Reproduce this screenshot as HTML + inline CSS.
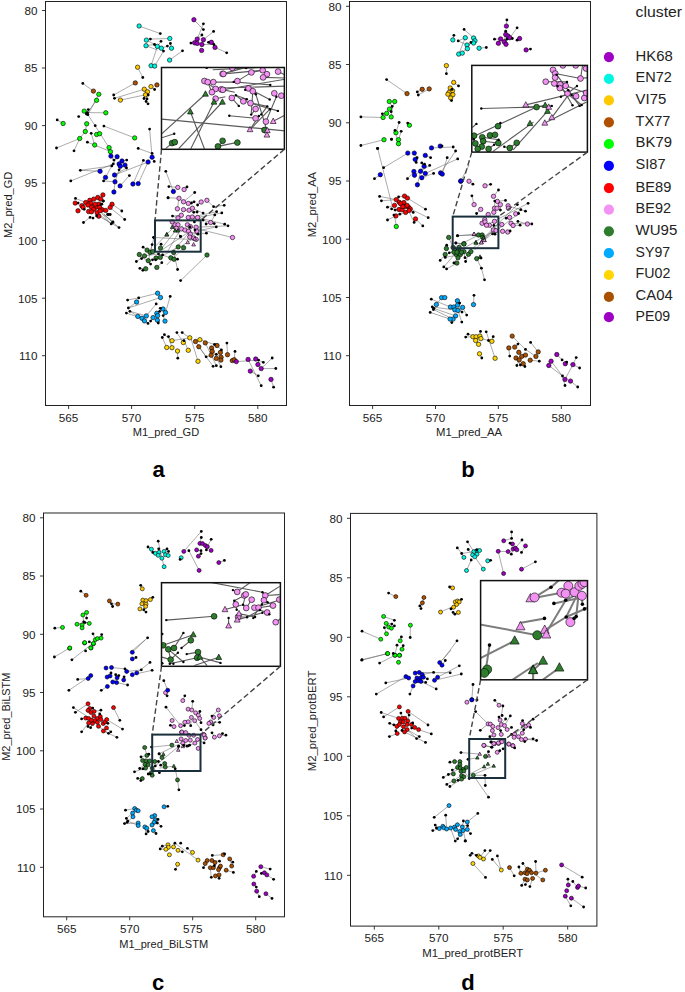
<!DOCTYPE html>
<html><head><meta charset="utf-8"><title>figure</title>
<style>html,body{margin:0;padding:0;background:#fff;width:685px;height:992px;overflow:hidden}
svg text{font-family:"Liberation Sans", sans-serif}</style></head>
<body>
<svg width="685" height="992" viewBox="0 0 685 992" style="display:block">
<rect width="685" height="992" fill="#fff"/>
<clipPath id="cpa"><rect x="45.5" y="1.5" width="241" height="404"/></clipPath>
<clipPath id="cia"><rect x="161.5" y="67.5" width="122.9" height="81.8"/></clipPath>
<g clip-path="url(#cpa)">
<g stroke="#555" stroke-width="0.55" stroke-opacity="0.9"><line x1="139.1" y1="26" x2="160.3" y2="33.6"/><line x1="150.4" y1="39.1" x2="169.8" y2="38.5"/><line x1="151.1" y1="65.7" x2="157.4" y2="46.4"/><line x1="154.7" y1="66.1" x2="163.5" y2="51.1"/><line x1="146.4" y1="40.1" x2="161.3" y2="48.2"/><line x1="146" y1="45.7" x2="154.5" y2="44.5"/><line x1="146" y1="45.7" x2="157.4" y2="50"/><line x1="161" y1="41.3" x2="157.4" y2="46.4"/><line x1="167.4" y1="46.1" x2="161.3" y2="48.2"/><line x1="170.4" y1="43.5" x2="171.5" y2="48.2"/><line x1="169.6" y1="60.1" x2="182.5" y2="50.8"/><line x1="137.6" y1="67.2" x2="142.8" y2="77.5"/><line x1="135.3" y1="82.9" x2="113.7" y2="95"/><line x1="144.3" y1="89.2" x2="114.5" y2="98.3"/><line x1="151" y1="86.6" x2="154.6" y2="89.5"/><line x1="147.5" y1="91.8" x2="146.1" y2="101.5"/><line x1="145.5" y1="94.8" x2="144" y2="98.5"/><line x1="120.4" y1="100.1" x2="145.5" y2="94.8"/><line x1="193.9" y1="19.7" x2="203.4" y2="29.6"/><line x1="197.2" y1="39.1" x2="203.4" y2="23.8"/><line x1="203.4" y1="39.7" x2="213.6" y2="31.4"/><line x1="215" y1="47.4" x2="226.7" y2="52.8"/><line x1="201.9" y1="44.5" x2="213.9" y2="44.5"/><line x1="197.2" y1="39.1" x2="201.9" y2="35"/><line x1="194.6" y1="42.8" x2="190.9" y2="43.1"/><line x1="93.4" y1="91.1" x2="82.8" y2="83.4"/><line x1="98.8" y1="94.3" x2="87.9" y2="114.7"/><line x1="96.6" y1="100.3" x2="86.4" y2="114"/><line x1="105.8" y1="112.8" x2="87.4" y2="112.6"/><line x1="63.1" y1="123.5" x2="57.2" y2="119.9"/><line x1="79.7" y1="138.5" x2="56.5" y2="148"/><line x1="79.7" y1="138.5" x2="74" y2="150.8"/><line x1="94.7" y1="145" x2="87.4" y2="142.2"/><line x1="94.7" y1="145" x2="91.2" y2="133.3"/><line x1="87.9" y1="114.7" x2="109.1" y2="147.6"/><line x1="94.7" y1="145" x2="110.5" y2="151.7"/><line x1="85.3" y1="131.5" x2="86.7" y2="123.8"/><line x1="79.7" y1="138.5" x2="85.3" y2="131.5"/><line x1="134.7" y1="137.9" x2="103.9" y2="126.1"/><line x1="149.6" y1="129.1" x2="152.1" y2="157.2"/><line x1="110.9" y1="156.1" x2="113.9" y2="160.1"/><line x1="117.1" y1="156.7" x2="113.3" y2="163.9"/><line x1="122" y1="161" x2="126.7" y2="160.1"/><line x1="125" y1="165.1" x2="126.5" y2="168"/><line x1="100.1" y1="171.3" x2="80.3" y2="170.3"/><line x1="80.3" y1="170.3" x2="111.8" y2="165.9"/><line x1="70.8" y1="180.9" x2="113.3" y2="163.9"/><line x1="105.5" y1="177.4" x2="111.8" y2="165.9"/><line x1="114.5" y1="175" x2="126.5" y2="168"/><line x1="114.5" y1="175" x2="148.1" y2="162"/><line x1="115" y1="181.8" x2="103.6" y2="180.9"/><line x1="115" y1="181.8" x2="119.1" y2="169.8"/><line x1="120.1" y1="185.9" x2="129.4" y2="175.6"/><line x1="113.9" y1="192" x2="115" y2="181.8"/><line x1="132.9" y1="184" x2="143.4" y2="160.4"/><line x1="138.2" y1="183.6" x2="148.1" y2="162"/><line x1="138.2" y1="148.4" x2="152.1" y2="153.4"/><line x1="75.5" y1="198.4" x2="105.8" y2="210.4"/><line x1="83.5" y1="222.5" x2="90.1" y2="217.4"/><line x1="119" y1="227.6" x2="98.8" y2="216.2"/><line x1="112.7" y1="222.5" x2="100" y2="210.8"/><line x1="111.2" y1="223.9" x2="97.1" y2="212.7"/><line x1="93.7" y1="199.1" x2="103.2" y2="201"/><line x1="112.2" y1="204.2" x2="121.8" y2="211"/><line x1="109.9" y1="207.5" x2="124.7" y2="219.5"/><line x1="104" y1="214.5" x2="113" y2="221.9"/><line x1="104" y1="214.5" x2="119" y2="227.7"/><line x1="101.7" y1="213.4" x2="110.8" y2="223.9"/><line x1="147.1" y1="250.1" x2="143.1" y2="247.2"/><line x1="150.1" y1="252.4" x2="152.1" y2="244.6"/><line x1="160.5" y1="248.1" x2="161.1" y2="244.2"/><line x1="139.3" y1="254.5" x2="141.6" y2="258.6"/><line x1="144.5" y1="255.9" x2="136.4" y2="261.5"/><line x1="148.3" y1="260.7" x2="150.6" y2="264.1"/><line x1="145.7" y1="268.8" x2="139.9" y2="268.3"/><line x1="145.7" y1="268.8" x2="142.8" y2="270.3"/><line x1="156" y1="258" x2="152.5" y2="259.8"/><line x1="160.3" y1="257.4" x2="162.6" y2="254.9"/><line x1="156.8" y1="267.4" x2="161.8" y2="262.7"/><line x1="170.8" y1="257.8" x2="158.5" y2="253.9"/><line x1="174" y1="259.2" x2="177.5" y2="259.2"/><line x1="173.7" y1="252.5" x2="177.6" y2="269.5"/><line x1="178.2" y1="246.9" x2="155.6" y2="259.8"/><line x1="183.6" y1="247.8" x2="166.7" y2="265"/><line x1="148.3" y1="260.7" x2="153.9" y2="237.6"/><line x1="144.5" y1="255.9" x2="158.5" y2="253.9"/><line x1="139.3" y1="254.5" x2="150.6" y2="264.1"/><line x1="207" y1="255" x2="180.6" y2="280.6"/><line x1="173.4" y1="191.5" x2="165.8" y2="171.3"/><line x1="184.1" y1="189.5" x2="187" y2="186.9"/><line x1="177.8" y1="187.4" x2="168.9" y2="186.6"/><line x1="179" y1="198.3" x2="168.1" y2="197.7"/><line x1="183.5" y1="201.8" x2="194.7" y2="192.5"/><line x1="188.3" y1="203.4" x2="194.1" y2="201.8"/><line x1="201.2" y1="202" x2="197.6" y2="205"/><line x1="206.9" y1="200.3" x2="213.6" y2="206.7"/><line x1="213.6" y1="206.7" x2="224.2" y2="205.3"/><line x1="192.4" y1="208.2" x2="203.1" y2="213.1"/><line x1="189.1" y1="210.2" x2="193.8" y2="212.3"/><line x1="183.5" y1="209.6" x2="197.1" y2="212"/><line x1="181.3" y1="215.2" x2="172.5" y2="216.1"/><line x1="178" y1="218" x2="172.5" y2="216.1"/><line x1="197.6" y1="217.5" x2="221.8" y2="212.9"/><line x1="192.3" y1="217" x2="216.6" y2="211.7"/><line x1="210.7" y1="222.5" x2="214.8" y2="214.9"/><line x1="210.7" y1="222.5" x2="206.1" y2="224"/><line x1="197.6" y1="217.5" x2="224.7" y2="224.2"/><line x1="196.1" y1="227.2" x2="228" y2="225.8"/><line x1="196.7" y1="231.2" x2="216.3" y2="226.9"/><line x1="192.3" y1="217" x2="214.2" y2="223.6"/><line x1="190.3" y1="234.2" x2="206.4" y2="233.2"/><line x1="188.5" y1="231.2" x2="197.9" y2="234.2"/><line x1="177.4" y1="208.8" x2="179" y2="198.3"/><line x1="172.2" y1="221.9" x2="180.4" y2="236.5"/><line x1="179" y1="198.3" x2="183.5" y2="201.8"/><line x1="188.3" y1="217.5" x2="203.1" y2="220.1"/><line x1="232.5" y1="237.5" x2="190" y2="227"/><line x1="157.6" y1="293.2" x2="138.7" y2="297.9"/><line x1="138.7" y1="297.9" x2="127.6" y2="300.1"/><line x1="160.5" y1="297.5" x2="128.4" y2="308"/><line x1="136.6" y1="302" x2="128.4" y2="308"/><line x1="156.2" y1="303.9" x2="146.3" y2="315.9"/><line x1="170.2" y1="296.4" x2="165.5" y2="312.5"/><line x1="137.8" y1="316.4" x2="129.9" y2="311.3"/><line x1="142" y1="318.3" x2="126.4" y2="313.1"/><line x1="146.3" y1="315.9" x2="129.9" y2="311.3"/><line x1="144.5" y1="320.9" x2="148" y2="323.4"/><line x1="153.1" y1="317.6" x2="150.6" y2="321.1"/><line x1="157.4" y1="320.3" x2="158.3" y2="323"/><line x1="163" y1="309" x2="160.3" y2="308.3"/><line x1="156.8" y1="313.3" x2="159.7" y2="311.3"/><line x1="165" y1="321.1" x2="163.2" y2="315.6"/><line x1="172" y1="340.7" x2="164.4" y2="334.7"/><line x1="166.7" y1="347.5" x2="162.3" y2="337.5"/><line x1="172" y1="347.7" x2="168.5" y2="336.6"/><line x1="177.5" y1="351" x2="177.8" y2="358.2"/><line x1="183.3" y1="342.5" x2="176.9" y2="332.6"/><line x1="189.8" y1="337.8" x2="182.2" y2="332.6"/><line x1="188.3" y1="350.3" x2="184" y2="340.7"/><line x1="172" y1="340.7" x2="189.8" y2="337.8"/><line x1="190.7" y1="337.8" x2="198" y2="361.3"/><line x1="199.9" y1="339.7" x2="214.5" y2="344.5"/><line x1="198.8" y1="346.7" x2="213.1" y2="366.3"/><line x1="205.3" y1="342.9" x2="216.3" y2="365.7"/><line x1="211.6" y1="348" x2="220.9" y2="366.7"/><line x1="217" y1="345.5" x2="221.4" y2="349.9"/><line x1="211.2" y1="355.3" x2="206.1" y2="356.8"/><line x1="227.5" y1="354.7" x2="226.9" y2="343.1"/><line x1="234.2" y1="359.7" x2="235" y2="351.4"/><line x1="221.1" y1="357.2" x2="216.3" y2="354.3"/><line x1="236.3" y1="361.6" x2="258.6" y2="360.1"/><line x1="248.1" y1="359.4" x2="261.2" y2="385.7"/><line x1="255.7" y1="359" x2="263.3" y2="362.3"/><line x1="257.9" y1="364.5" x2="258.6" y2="360.1"/><line x1="261.2" y1="368.6" x2="272.2" y2="358"/><line x1="261.2" y1="368.6" x2="275.8" y2="368.5"/><line x1="250.3" y1="371.1" x2="258.3" y2="375.8"/><line x1="271" y1="379.4" x2="273.6" y2="387.2"/><line x1="195.5" y1="341.5" x2="206.1" y2="356.8"/><line x1="154.5" y1="237.5" x2="199.4" y2="239.9"/><line x1="159.3" y1="251.2" x2="178.5" y2="227.1"/><line x1="167.3" y1="252" x2="182.6" y2="225.5"/><line x1="155.3" y1="246.4" x2="174.5" y2="226.3"/><line x1="176.9" y1="248.8" x2="195.4" y2="237.5"/><line x1="172.1" y1="252.8" x2="188.2" y2="233.5"/><line x1="162.5" y1="249.6" x2="191.4" y2="230.3"/></g>
<g stroke="#000" stroke-width="0.6"><circle cx="139.1" cy="26" r="2.2" fill="#00f6e2"/><circle cx="146.4" cy="40.1" r="2.2" fill="#00f6e2"/><circle cx="169.8" cy="38.5" r="2.2" fill="#00f6e2"/><circle cx="146" cy="45.7" r="2.2" fill="#00f6e2"/><circle cx="157.4" cy="46.4" r="2.2" fill="#00f6e2"/><circle cx="161.3" cy="48.2" r="2.2" fill="#00f6e2"/><circle cx="171.5" cy="48.2" r="2.2" fill="#00f6e2"/><circle cx="151.1" cy="65.7" r="2.2" fill="#00f6e2"/><circle cx="154.7" cy="66.1" r="2.2" fill="#00f6e2"/><circle cx="169.6" cy="60.1" r="2.2" fill="#00f6e2"/><circle cx="137.6" cy="67.2" r="2.2" fill="#ffc800"/><circle cx="135.3" cy="82.9" r="2.2" fill="#b04f00"/><circle cx="144.3" cy="89.2" r="2.2" fill="#ffc800"/><circle cx="151" cy="86.6" r="2.2" fill="#ffc800"/><circle cx="147.5" cy="91.8" r="2.2" fill="#ffc800"/><circle cx="145.5" cy="94.8" r="2.2" fill="#ffc800"/><circle cx="156.9" cy="84.9" r="2.2" fill="#b04f00"/><circle cx="120.4" cy="100.1" r="2.2" fill="#ffc800"/><circle cx="193.9" cy="19.7" r="2.2" fill="#a000c4"/><circle cx="197.2" cy="39.1" r="2.2" fill="#a000c4"/><circle cx="203.4" cy="39.7" r="2.2" fill="#a000c4"/><circle cx="194.6" cy="42.8" r="2.2" fill="#a000c4"/><circle cx="197.2" cy="43.4" r="2.2" fill="#a000c4"/><circle cx="201.9" cy="44.5" r="2.2" fill="#a000c4"/><circle cx="211.4" cy="42.3" r="2.2" fill="#a000c4"/><circle cx="215" cy="47.4" r="2.2" fill="#a000c4"/><circle cx="201.6" cy="50.4" r="2.2" fill="#a000c4"/><circle cx="93.4" cy="91.1" r="2.2" fill="#b04f00"/><circle cx="98.8" cy="94.3" r="2.2" fill="#00ff00"/><circle cx="96.6" cy="100.3" r="2.2" fill="#00ff00"/><circle cx="84.2" cy="111.1" r="2.2" fill="#00ff00"/><circle cx="105.8" cy="112.8" r="2.2" fill="#00ff00"/><circle cx="63.1" cy="123.5" r="2.2" fill="#00ff00"/><circle cx="86.7" cy="123.8" r="2.2" fill="#00ff00"/><circle cx="85.3" cy="131.5" r="2.2" fill="#00ff00"/><circle cx="79.7" cy="138.5" r="2.2" fill="#00ff00"/><circle cx="96.6" cy="134.5" r="2.2" fill="#00ff00"/><circle cx="99.6" cy="133.7" r="2.2" fill="#00ff00"/><circle cx="94.7" cy="145" r="2.2" fill="#00ff00"/><circle cx="109.1" cy="147.6" r="2.2" fill="#00ff00"/><circle cx="110.5" cy="151.7" r="2.2" fill="#00ff00"/><circle cx="134.7" cy="137.9" r="2.2" fill="#00ff00"/><circle cx="110.9" cy="156.1" r="2.2" fill="#0000ff"/><circle cx="117.1" cy="156.7" r="2.2" fill="#0000ff"/><circle cx="122" cy="161" r="2.2" fill="#0000ff"/><circle cx="119.1" cy="163.9" r="2.2" fill="#0000ff"/><circle cx="120.3" cy="166.3" r="2.2" fill="#0000ff"/><circle cx="125" cy="165.1" r="2.2" fill="#0000ff"/><circle cx="100.1" cy="171.3" r="2.2" fill="#0000ff"/><circle cx="105.5" cy="177.4" r="2.2" fill="#0000ff"/><circle cx="114.5" cy="175" r="2.2" fill="#0000ff"/><circle cx="115" cy="181.8" r="2.2" fill="#0000ff"/><circle cx="120.1" cy="185.9" r="2.2" fill="#0000ff"/><circle cx="113.9" cy="192" r="2.2" fill="#0000ff"/><circle cx="132.9" cy="184" r="2.2" fill="#0000ff"/><circle cx="138.2" cy="183.6" r="2.2" fill="#0000ff"/><circle cx="148.1" cy="162" r="2.2" fill="#0000ff"/><circle cx="152.1" cy="157.2" r="2.2" fill="#0000ff"/><circle cx="102.9" cy="194.9" r="2.2" fill="#ff0000"/><circle cx="97.8" cy="197.4" r="2.2" fill="#ff0000"/><circle cx="100.7" cy="199.1" r="2.2" fill="#ff0000"/><circle cx="93.7" cy="199.1" r="2.2" fill="#ff0000"/><circle cx="89.8" cy="200.3" r="2.2" fill="#ff0000"/><circle cx="85.7" cy="202.5" r="2.2" fill="#ff0000"/><circle cx="75.2" cy="203.1" r="2.2" fill="#ff0000"/><circle cx="90.8" cy="203.2" r="2.2" fill="#ff0000"/><circle cx="81.8" cy="205.7" r="2.2" fill="#ff0000"/><circle cx="98.8" cy="204.2" r="2.2" fill="#ff0000"/><circle cx="112" cy="204.2" r="2.2" fill="#ff0000"/><circle cx="91.5" cy="207.2" r="2.2" fill="#ff0000"/><circle cx="95.9" cy="207.2" r="2.2" fill="#ff0000"/><circle cx="99.6" cy="207.4" r="2.2" fill="#ff0000"/><circle cx="110.2" cy="207.4" r="2.2" fill="#ff0000"/><circle cx="83.1" cy="207.4" r="2.2" fill="#ff0000"/><circle cx="93.7" cy="209.3" r="2.2" fill="#ff0000"/><circle cx="102.2" cy="209.8" r="2.2" fill="#ff0000"/><circle cx="105.8" cy="210.4" r="2.2" fill="#ff0000"/><circle cx="78" cy="210.8" r="2.2" fill="#ff0000"/><circle cx="88.6" cy="211.5" r="2.2" fill="#ff0000"/><circle cx="91.5" cy="211.8" r="2.2" fill="#ff0000"/><circle cx="97.1" cy="212.7" r="2.2" fill="#ff0000"/><circle cx="98.8" cy="216.2" r="2.2" fill="#ff0000"/><circle cx="100" cy="210.8" r="2.2" fill="#ff0000"/><circle cx="95.2" cy="204.2" r="2.2" fill="#ff0000"/><circle cx="87.9" cy="205" r="2.2" fill="#ff0000"/><circle cx="147.1" cy="250.1" r="2.2" fill="#2e7d2e"/><circle cx="150.1" cy="252.4" r="2.2" fill="#2e7d2e"/><circle cx="152.7" cy="251.6" r="2.2" fill="#2e7d2e"/><circle cx="139.3" cy="254.5" r="2.2" fill="#2e7d2e"/><circle cx="144.5" cy="255.9" r="2.2" fill="#2e7d2e"/><circle cx="148.3" cy="260.7" r="2.2" fill="#2e7d2e"/><circle cx="145.7" cy="268.8" r="2.2" fill="#2e7d2e"/><circle cx="156" cy="258" r="2.2" fill="#2e7d2e"/><circle cx="160.3" cy="257.4" r="2.2" fill="#2e7d2e"/><circle cx="156.8" cy="267.4" r="2.2" fill="#2e7d2e"/><circle cx="160.5" cy="248.1" r="2.2" fill="#2e7d2e"/><circle cx="170.8" cy="257.8" r="2.2" fill="#2e7d2e"/><circle cx="174" cy="259.2" r="2.2" fill="#2e7d2e"/><circle cx="173.7" cy="252.5" r="2.2" fill="#2e7d2e"/><circle cx="178.2" cy="246.9" r="2.2" fill="#2e7d2e"/><circle cx="183.6" cy="247.8" r="2.2" fill="#2e7d2e"/><circle cx="207" cy="255" r="2.2" fill="#2e7d2e"/><circle cx="173.4" cy="191.5" r="2.2" fill="#0000ff"/><circle cx="177.8" cy="187.4" r="2.2" fill="#f292f2"/><circle cx="184.1" cy="189.5" r="2.2" fill="#f292f2"/><circle cx="179" cy="198.3" r="2.2" fill="#f292f2"/><circle cx="183.5" cy="201.8" r="2.2" fill="#f292f2"/><circle cx="188.3" cy="203.4" r="2.2" fill="#f292f2"/><circle cx="201.2" cy="202" r="2.2" fill="#f292f2"/><circle cx="206.9" cy="200.3" r="2.2" fill="#f292f2"/><circle cx="177.4" cy="208.8" r="2.2" fill="#f292f2"/><circle cx="183.5" cy="209.6" r="2.2" fill="#f292f2"/><circle cx="189.1" cy="210.2" r="2.2" fill="#f292f2"/><circle cx="192.4" cy="208.2" r="2.2" fill="#f292f2"/><circle cx="181.3" cy="215.2" r="2.2" fill="#f292f2"/><circle cx="178" cy="218" r="2.2" fill="#f292f2"/><circle cx="188.3" cy="217.5" r="2.2" fill="#f292f2"/><circle cx="192.3" cy="217" r="2.2" fill="#f292f2"/><circle cx="197.6" cy="217.5" r="2.2" fill="#f292f2"/><circle cx="210.7" cy="222.5" r="2.2" fill="#f292f2"/><circle cx="172.2" cy="221.9" r="2.2" fill="#f292f2"/><circle cx="175.1" cy="224.8" r="2.2" fill="#f292f2"/><circle cx="178" cy="224.8" r="2.2" fill="#f292f2"/><circle cx="176.3" cy="228.3" r="2.2" fill="#f292f2"/><circle cx="181.5" cy="228.9" r="2.2" fill="#f292f2"/><circle cx="185" cy="230.1" r="2.2" fill="#f292f2"/><circle cx="187.4" cy="224.8" r="2.2" fill="#f292f2"/><circle cx="190.3" cy="226.6" r="2.2" fill="#f292f2"/><circle cx="188.5" cy="231.2" r="2.2" fill="#f292f2"/><circle cx="190.3" cy="234.2" r="2.2" fill="#f292f2"/><circle cx="196.1" cy="227.2" r="2.2" fill="#f292f2"/><circle cx="196.7" cy="231.2" r="2.2" fill="#f292f2"/><circle cx="189.7" cy="237.1" r="2.2" fill="#f292f2"/><circle cx="193.8" cy="238" r="2.2" fill="#f292f2"/><circle cx="196.1" cy="239.4" r="2.2" fill="#f292f2"/><polygon points="172.2,225.1 170.3,228.6 174.1,228.6" fill="#2e7d2e"/><polygon points="175.1,228.6 173.2,232.1 177,232.1" fill="#2e7d2e"/><polygon points="178,228.6 176.1,232.1 179.9,232.1" fill="#2e7d2e"/><polygon points="166.9,232.4 165,235.9 168.8,235.9" fill="#2e7d2e"/><circle cx="232.5" cy="237.5" r="2.2" fill="#f292f2"/><polygon points="166.7,232.6 164.8,236.1 168.6,236.1" fill="#2e7d2e"/><polygon points="187.7,240.2 185.8,243.7 189.6,243.7" fill="#f292f2"/><polygon points="193.6,242.5 191.7,246 195.5,246" fill="#f292f2"/><polygon points="194.7,236.7 192.8,240.2 196.6,240.2" fill="#f292f2"/><circle cx="157.6" cy="293.2" r="2.2" fill="#00aaff"/><circle cx="160.5" cy="297.5" r="2.2" fill="#00aaff"/><circle cx="136.6" cy="302" r="2.2" fill="#00aaff"/><circle cx="163" cy="309" r="2.2" fill="#00aaff"/><circle cx="165.5" cy="312.5" r="2.2" fill="#00aaff"/><circle cx="156.8" cy="313.3" r="2.2" fill="#00aaff"/><circle cx="157.6" cy="315.6" r="2.2" fill="#00aaff"/><circle cx="153.1" cy="317.6" r="2.2" fill="#00aaff"/><circle cx="146.3" cy="315.9" r="2.2" fill="#00aaff"/><circle cx="137.8" cy="316.4" r="2.2" fill="#00aaff"/><circle cx="142" cy="318.3" r="2.2" fill="#00aaff"/><circle cx="144.5" cy="320.9" r="2.2" fill="#00aaff"/><circle cx="157.4" cy="320.3" r="2.2" fill="#00aaff"/><circle cx="165" cy="321.1" r="2.2" fill="#00aaff"/><circle cx="172" cy="340.7" r="2.2" fill="#ffd600"/><circle cx="166.7" cy="347.5" r="2.2" fill="#ffd600"/><circle cx="172" cy="347.7" r="2.2" fill="#ffd600"/><circle cx="177.5" cy="351" r="2.2" fill="#ffd600"/><circle cx="183.3" cy="342.5" r="2.2" fill="#ffd600"/><circle cx="189.8" cy="337.8" r="2.2" fill="#ffd600"/><circle cx="188.3" cy="350.3" r="2.2" fill="#ffd600"/><circle cx="198" cy="361.3" r="2.2" fill="#ffd600"/><circle cx="199.9" cy="339.7" r="2.2" fill="#ffd600"/><circle cx="195.5" cy="341.5" r="2.2" fill="#a85000"/><circle cx="198.8" cy="346.7" r="2.2" fill="#a85000"/><circle cx="205.3" cy="342.9" r="2.2" fill="#a85000"/><circle cx="211.6" cy="348" r="2.2" fill="#a85000"/><circle cx="217" cy="345.5" r="2.2" fill="#a85000"/><circle cx="212.2" cy="351.4" r="2.2" fill="#a85000"/><circle cx="220.4" cy="352.4" r="2.2" fill="#a85000"/><circle cx="211.2" cy="355.3" r="2.2" fill="#a85000"/><circle cx="216.3" cy="358.4" r="2.2" fill="#a85000"/><circle cx="221.1" cy="357.2" r="2.2" fill="#a85000"/><circle cx="220.9" cy="360.1" r="2.2" fill="#a85000"/><circle cx="227.5" cy="354.7" r="2.2" fill="#a85000"/><circle cx="232.3" cy="360.6" r="2.2" fill="#a85000"/><circle cx="234.2" cy="359.7" r="2.2" fill="#a85000"/><circle cx="236.3" cy="361.6" r="2.2" fill="#9e00c4"/><circle cx="248.1" cy="359.4" r="2.2" fill="#9e00c4"/><circle cx="255.7" cy="359" r="2.2" fill="#9e00c4"/><circle cx="257.9" cy="364.5" r="2.2" fill="#9e00c4"/><circle cx="261.2" cy="368.6" r="2.2" fill="#9e00c4"/><circle cx="250.3" cy="371.1" r="2.2" fill="#9e00c4"/><circle cx="271" cy="379.4" r="2.2" fill="#9e00c4"/></g>
<g fill="#000"><circle cx="160.3" cy="33.6" r="1.4"/><circle cx="150.4" cy="39.1" r="1.4"/><circle cx="161" cy="41.3" r="1.4"/><circle cx="170.4" cy="43.5" r="1.4"/><circle cx="154.5" cy="44.5" r="1.4"/><circle cx="167.4" cy="46.1" r="1.4"/><circle cx="163.5" cy="51.1" r="1.4"/><circle cx="182.5" cy="50.8" r="1.4"/><circle cx="142.8" cy="77.5" r="1.4"/><circle cx="113.7" cy="95" r="1.4"/><circle cx="154.6" cy="89.5" r="1.4"/><circle cx="148.2" cy="95" r="1.4"/><circle cx="144" cy="98.5" r="1.4"/><circle cx="147" cy="98.9" r="1.4"/><circle cx="146.1" cy="101.5" r="1.4"/><circle cx="148" cy="103.8" r="1.4"/><circle cx="114.5" cy="98.3" r="1.4"/><circle cx="203.4" cy="29.6" r="1.4"/><circle cx="203.4" cy="23.8" r="1.4"/><circle cx="201.9" cy="35" r="1.4"/><circle cx="213.6" cy="31.4" r="1.4"/><circle cx="190.9" cy="43.1" r="1.4"/><circle cx="208.5" cy="42.3" r="1.4"/><circle cx="213.9" cy="44.5" r="1.4"/><circle cx="226.7" cy="52.8" r="1.4"/><circle cx="82.8" cy="83.4" r="1.4"/><circle cx="88.3" cy="109.6" r="1.4"/><circle cx="86.4" cy="114" r="1.4"/><circle cx="87.9" cy="114.7" r="1.4"/><circle cx="86.9" cy="113.2" r="1.4"/><circle cx="87.4" cy="112.6" r="1.4"/><circle cx="78.7" cy="116.6" r="1.4"/><circle cx="57.2" cy="119.9" r="1.4"/><circle cx="56.5" cy="148" r="1.4"/><circle cx="74" cy="150.8" r="1.4"/><circle cx="91.2" cy="133.3" r="1.4"/><circle cx="95.2" cy="125.7" r="1.4"/><circle cx="87.4" cy="142.2" r="1.4"/><circle cx="103.9" cy="126.1" r="1.4"/><circle cx="149.6" cy="129.1" r="1.4"/><circle cx="113.9" cy="160.1" r="1.4"/><circle cx="113.3" cy="163.9" r="1.4"/><circle cx="111.8" cy="165.9" r="1.4"/><circle cx="126.7" cy="160.1" r="1.4"/><circle cx="126.5" cy="168" r="1.4"/><circle cx="119.1" cy="169.8" r="1.4"/><circle cx="80.3" cy="170.3" r="1.4"/><circle cx="70.8" cy="180.9" r="1.4"/><circle cx="103.6" cy="180.9" r="1.4"/><circle cx="129.4" cy="175.6" r="1.4"/><circle cx="143.4" cy="160.4" r="1.4"/><circle cx="138.2" cy="148.4" r="1.4"/><circle cx="152.1" cy="153.4" r="1.4"/><circle cx="154.2" cy="161.4" r="1.4"/><circle cx="75.5" cy="198.4" r="1.4"/><circle cx="78.1" cy="203.1" r="1.4"/><circle cx="103.2" cy="201" r="1.4"/><circle cx="101" cy="204.2" r="1.4"/><circle cx="84.2" cy="209.3" r="1.4"/><circle cx="90.1" cy="217.4" r="1.4"/><circle cx="93" cy="218.1" r="1.4"/><circle cx="83.5" cy="222.5" r="1.4"/><circle cx="107.6" cy="214.5" r="1.4"/><circle cx="110.2" cy="214.5" r="1.4"/><circle cx="111.2" cy="223.9" r="1.4"/><circle cx="112.7" cy="222.5" r="1.4"/><circle cx="119" cy="227.6" r="1.4"/><circle cx="96.6" cy="215.9" r="1.4"/><circle cx="101.8" cy="204.2" r="1.4"/><circle cx="121.8" cy="211" r="1.4"/><circle cx="124.7" cy="219.5" r="1.4"/><circle cx="113" cy="221.9" r="1.4"/><circle cx="103.4" cy="201.1" r="1.4"/><circle cx="108.7" cy="214.5" r="1.4"/><circle cx="168" cy="197.9" r="1.4"/><circle cx="153.6" cy="237.3" r="1.4"/><circle cx="143.1" cy="247.2" r="1.4"/><circle cx="152.1" cy="244.6" r="1.4"/><circle cx="161.1" cy="244.2" r="1.4"/><circle cx="141.6" cy="258.6" r="1.4"/><circle cx="136.4" cy="261.5" r="1.4"/><circle cx="150.6" cy="264.1" r="1.4"/><circle cx="139.9" cy="268.3" r="1.4"/><circle cx="142.8" cy="270.3" r="1.4"/><circle cx="161.8" cy="262.7" r="1.4"/><circle cx="158.5" cy="253.9" r="1.4"/><circle cx="162.6" cy="254.9" r="1.4"/><circle cx="153.9" cy="237.6" r="1.4"/><circle cx="177.5" cy="259.2" r="1.4"/><circle cx="177.6" cy="269.5" r="1.4"/><circle cx="180.5" cy="236.4" r="1.4"/><circle cx="152.5" cy="259.8" r="1.4"/><circle cx="155.6" cy="259.8" r="1.4"/><circle cx="180.6" cy="280.6" r="1.4"/><circle cx="165.8" cy="171.3" r="1.4"/><circle cx="168.9" cy="186.6" r="1.4"/><circle cx="187" cy="186.9" r="1.4"/><circle cx="168.1" cy="197.7" r="1.4"/><circle cx="194.7" cy="192.5" r="1.4"/><circle cx="194.1" cy="201.8" r="1.4"/><circle cx="191.5" cy="203" r="1.4"/><circle cx="197.6" cy="205" r="1.4"/><circle cx="213.6" cy="206.7" r="1.4"/><circle cx="224.2" cy="205.3" r="1.4"/><circle cx="193.8" cy="212.3" r="1.4"/><circle cx="197.1" cy="212" r="1.4"/><circle cx="203.1" cy="213.1" r="1.4"/><circle cx="216.6" cy="211.7" r="1.4"/><circle cx="221.8" cy="212.9" r="1.4"/><circle cx="214.8" cy="214.9" r="1.4"/><circle cx="172.5" cy="216.1" r="1.4"/><circle cx="203.1" cy="220.1" r="1.4"/><circle cx="206.1" cy="224" r="1.4"/><circle cx="214.2" cy="223.6" r="1.4"/><circle cx="216.3" cy="226.9" r="1.4"/><circle cx="224.7" cy="224.2" r="1.4"/><circle cx="228" cy="225.8" r="1.4"/><circle cx="206.4" cy="233.2" r="1.4"/><circle cx="180.4" cy="236.5" r="1.4"/><circle cx="195" cy="230.1" r="1.4"/><circle cx="197.9" cy="234.2" r="1.4"/><circle cx="194.4" cy="221.9" r="1.4"/><circle cx="190" cy="227" r="1.4"/><circle cx="127.6" cy="300.1" r="1.4"/><circle cx="138.7" cy="297.9" r="1.4"/><circle cx="128.4" cy="308" r="1.4"/><circle cx="129.9" cy="311.3" r="1.4"/><circle cx="126.4" cy="313.1" r="1.4"/><circle cx="156.2" cy="303.9" r="1.4"/><circle cx="170.2" cy="296.4" r="1.4"/><circle cx="160.3" cy="308.3" r="1.4"/><circle cx="159.7" cy="311.3" r="1.4"/><circle cx="163.2" cy="315.6" r="1.4"/><circle cx="150.6" cy="321.1" r="1.4"/><circle cx="148" cy="323.4" r="1.4"/><circle cx="158.3" cy="323" r="1.4"/><circle cx="164.4" cy="334.7" r="1.4"/><circle cx="162.3" cy="337.5" r="1.4"/><circle cx="168.5" cy="336.6" r="1.4"/><circle cx="176.9" cy="332.6" r="1.4"/><circle cx="182.2" cy="332.6" r="1.4"/><circle cx="184" cy="340.7" r="1.4"/><circle cx="177.8" cy="358.2" r="1.4"/><circle cx="214.5" cy="344.5" r="1.4"/><circle cx="221.4" cy="349.9" r="1.4"/><circle cx="216.3" cy="354.3" r="1.4"/><circle cx="206.1" cy="356.8" r="1.4"/><circle cx="213.1" cy="366.3" r="1.4"/><circle cx="216.3" cy="365.7" r="1.4"/><circle cx="220.9" cy="366.7" r="1.4"/><circle cx="226.9" cy="343.1" r="1.4"/><circle cx="235" cy="351.4" r="1.4"/><circle cx="258.6" cy="360.1" r="1.4"/><circle cx="263.3" cy="362.3" r="1.4"/><circle cx="272.2" cy="358" r="1.4"/><circle cx="275.8" cy="368.5" r="1.4"/><circle cx="258.3" cy="375.8" r="1.4"/><circle cx="261.2" cy="385.7" r="1.4"/><circle cx="273.6" cy="387.2" r="1.4"/></g>
</g>
<rect x="161.5" y="67.5" width="122.9" height="81.8" fill="#fff"/>
<g clip-path="url(#cia)">
<g stroke="#5a5a5a" stroke-width="1.1"><line x1="205.5" y1="94" x2="155.3" y2="139.8"/><line x1="190.4" y1="111.8" x2="204.4" y2="148.7"/><line x1="214" y1="102" x2="190.8" y2="148.7"/><line x1="222.4" y1="102" x2="178.7" y2="148.7"/><line x1="161.9" y1="119.1" x2="290.8" y2="131.4"/><line x1="174.2" y1="133.8" x2="158.1" y2="138.9"/><line x1="172.1" y1="143.1" x2="165.6" y2="148.7"/><line x1="213.3" y1="82.1" x2="235.7" y2="82.1"/><line x1="215.6" y1="88.9" x2="225.4" y2="89.4"/><line x1="204.4" y1="81" x2="215.6" y2="88.9"/><line x1="207.7" y1="82.1" x2="211.9" y2="92.2"/><line x1="221.2" y1="89.4" x2="234.8" y2="92.2"/><line x1="215.6" y1="98.7" x2="225.4" y2="96.8"/><line x1="222.6" y1="73.9" x2="244.1" y2="67.9"/><line x1="217.9" y1="146.4" x2="237.4" y2="142.4"/><line x1="212.7" y1="69.7" x2="246.1" y2="68.1"/><line x1="246.1" y1="68.1" x2="287.4" y2="66"/><line x1="223.4" y1="73.9" x2="262.7" y2="70.2"/><line x1="237.4" y1="81.1" x2="251.4" y2="72.4"/><line x1="251.4" y1="72.4" x2="262.7" y2="70.2"/><line x1="233.7" y1="81.9" x2="270.3" y2="84.9"/><line x1="212.7" y1="88.4" x2="286" y2="86.1"/><line x1="222.9" y1="89.8" x2="286" y2="79.1"/><line x1="229.3" y1="115.7" x2="255.6" y2="118.3"/><line x1="250" y1="129.6" x2="269.9" y2="109.2"/><line x1="255.6" y1="109" x2="251.2" y2="114.6"/><line x1="231.8" y1="98" x2="238.8" y2="105.9"/><line x1="243.3" y1="101.3" x2="235.8" y2="95.2"/><line x1="252.8" y1="91.2" x2="251.2" y2="114.6"/><line x1="255.8" y1="94.2" x2="266.9" y2="130.5"/><line x1="273.2" y1="121.3" x2="286" y2="114.6"/><line x1="248.4" y1="88.4" x2="269.7" y2="99.5"/><line x1="250.5" y1="103.2" x2="277.9" y2="110.9"/><line x1="261.3" y1="114.4" x2="267.3" y2="106.4"/><line x1="258.9" y1="116" x2="250" y2="129.6"/><line x1="265.9" y1="121.6" x2="276.4" y2="96.8"/><line x1="263.1" y1="77.4" x2="286" y2="78.1"/><line x1="278.1" y1="71.6" x2="286" y2="75.3"/><line x1="223.4" y1="140.8" x2="219.2" y2="145.4"/><line x1="243.5" y1="101.3" x2="267.3" y2="106.4"/><line x1="235.8" y1="95.2" x2="246.8" y2="99.2"/></g>
<g stroke="#000" stroke-width="0.6"><circle cx="222.6" cy="73.9" r="2.9" fill="#f292f2"/><circle cx="204.4" cy="81" r="2.9" fill="#f292f2"/><circle cx="207.7" cy="82.1" r="2.9" fill="#f292f2"/><circle cx="213.3" cy="82.1" r="2.9" fill="#f292f2"/><circle cx="215.6" cy="88.9" r="2.9" fill="#f292f2"/><circle cx="211.9" cy="92.2" r="2.9" fill="#f292f2"/><circle cx="221.2" cy="89.4" r="2.9" fill="#f292f2"/><circle cx="215.6" cy="98.7" r="2.9" fill="#f292f2"/><polygon points="205.5,90.8 202.6,96.2 208.4,96.2" fill="#2e7d2e"/><polygon points="190.4,108.6 187.5,114 193.3,114" fill="#2e7d2e"/><polygon points="214,98.8 211.1,104.2 216.9,104.2" fill="#2e7d2e"/><polygon points="222.4,98.8 219.5,104.2 225.3,104.2" fill="#2e7d2e"/><circle cx="172.1" cy="143.1" r="2.9" fill="#2e7d2e"/><circle cx="174.8" cy="142.2" r="2.9" fill="#2e7d2e"/><circle cx="217.9" cy="146.4" r="2.9" fill="#2e7d2e"/><circle cx="222.6" cy="140.8" r="2.9" fill="#2e7d2e"/><circle cx="223.4" cy="73.9" r="2.9" fill="#f292f2"/><circle cx="251.4" cy="72.4" r="2.9" fill="#f292f2"/><circle cx="262.7" cy="70.2" r="2.9" fill="#f292f2"/><circle cx="266.9" cy="74.2" r="2.9" fill="#f292f2"/><circle cx="263.1" cy="77.4" r="2.9" fill="#f292f2"/><circle cx="278.1" cy="71.6" r="2.9" fill="#f292f2"/><circle cx="232.3" cy="67.9" r="2.9" fill="#f292f2"/><circle cx="237.4" cy="81.1" r="2.9" fill="#f292f2"/><circle cx="222.9" cy="89.8" r="2.9" fill="#f292f2"/><circle cx="248.4" cy="88.4" r="2.9" fill="#f292f2"/><circle cx="252.8" cy="91.2" r="2.9" fill="#f292f2"/><circle cx="274.3" cy="93.3" r="2.9" fill="#f292f2"/><circle cx="281.3" cy="95.7" r="2.9" fill="#f292f2"/><circle cx="231.8" cy="98" r="2.9" fill="#f292f2"/><circle cx="243.3" cy="101.3" r="2.9" fill="#f292f2"/><circle cx="250.5" cy="103.2" r="2.9" fill="#f292f2"/><circle cx="255.6" cy="109" r="2.9" fill="#f292f2"/><circle cx="255.6" cy="118.3" r="2.9" fill="#f292f2"/><circle cx="265.9" cy="121.6" r="2.9" fill="#f292f2"/><circle cx="264.5" cy="130" r="2.9" fill="#2e7d2e"/><polygon points="273.2,118.1 270.3,123.5 276.1,123.5" fill="#f292f2"/><polygon points="250,126.4 247.1,131.7 252.9,131.7" fill="#f292f2"/><polygon points="267.3,127.3 264.4,132.7 270.2,132.7" fill="#f292f2"/><polygon points="266.9,131.8 264,137.1 269.8,137.1" fill="#f292f2"/><circle cx="237.4" cy="142.6" r="2.9" fill="#2e7d2e"/></g>
<g fill="#000"><circle cx="206.7" cy="67.9" r="1.2"/><circle cx="174.2" cy="133.8" r="1.2"/><circle cx="246.1" cy="68.1" r="1.2"/><circle cx="233.7" cy="81.9" r="1.2"/><circle cx="270.3" cy="84.9" r="1.2"/><circle cx="245.2" cy="89.8" r="1.2"/><circle cx="235.8" cy="95.2" r="1.2"/><circle cx="255.8" cy="94.2" r="1.2"/><circle cx="246.8" cy="99.2" r="1.2"/><circle cx="269.7" cy="99.5" r="1.2"/><circle cx="276.4" cy="96.8" r="1.2"/><circle cx="238.8" cy="105.9" r="1.2"/><circle cx="267.3" cy="106.4" r="1.2"/><circle cx="269.9" cy="109.2" r="1.2"/><circle cx="277.9" cy="110.9" r="1.2"/><circle cx="251.2" cy="114.6" r="1.2"/><circle cx="261.3" cy="114.4" r="1.2"/><circle cx="258.9" cy="116" r="1.2"/><circle cx="229.3" cy="115.7" r="1.2"/></g>
</g>
<rect x="161.5" y="67.5" width="122.9" height="81.8" fill="none" stroke="#111" stroke-width="1.5"/>
<g stroke="#444" stroke-width="1.4" stroke-dasharray="5.5,3">
<line x1="161.5" y1="149.3" x2="155" y2="220.4"/>
<line x1="284.4" y1="149.3" x2="200.7" y2="220.4"/>
</g>
<rect x="155" y="220.4" width="45.7" height="31.3" fill="none" stroke="#1a2f3c" stroke-width="2"/>
<rect x="45.5" y="1.5" width="241" height="404" fill="none" stroke="#222" stroke-width="1"/>
<g stroke="#222" stroke-width="0.9"><line x1="68.6" y1="405.5" x2="68.6" y2="409"/><line x1="131.6" y1="405.5" x2="131.6" y2="409"/><line x1="194.7" y1="405.5" x2="194.7" y2="409"/><line x1="257.8" y1="405.5" x2="257.8" y2="409"/><line x1="45.5" y1="10.5" x2="42" y2="10.5"/><line x1="45.5" y1="68" x2="42" y2="68"/><line x1="45.5" y1="125.6" x2="42" y2="125.6"/><line x1="45.5" y1="183.1" x2="42" y2="183.1"/><line x1="45.5" y1="240.6" x2="42" y2="240.6"/><line x1="45.5" y1="298.2" x2="42" y2="298.2"/><line x1="45.5" y1="355.7" x2="42" y2="355.7"/></g>
<g font-size="11.7" fill="#222"><text x="68.6" y="421.8" text-anchor="middle">565</text><text x="131.6" y="421.8" text-anchor="middle">570</text><text x="194.7" y="421.8" text-anchor="middle">575</text><text x="257.8" y="421.8" text-anchor="middle">580</text><text x="37.6" y="14.8" text-anchor="end">80</text><text x="37.6" y="72.3" text-anchor="end">85</text><text x="37.6" y="129.9" text-anchor="end">90</text><text x="37.6" y="187.4" text-anchor="end">95</text><text x="37.6" y="244.9" text-anchor="end">100</text><text x="37.6" y="302.5" text-anchor="end">105</text><text x="37.6" y="360" text-anchor="end">110</text></g>
<text x="166" y="436.4" text-anchor="middle" font-size="11.5" fill="#222" textLength="66.5" lengthAdjust="spacingAndGlyphs">M1_pred_GD</text>
<text transform="translate(12.1,204.9) rotate(-90)" text-anchor="middle" font-size="11.5" fill="#222" textLength="66.3" lengthAdjust="spacingAndGlyphs">M2_pred_GD</text>
<text x="158.6" y="477" text-anchor="middle" font-size="22" font-weight="bold" fill="#000">a</text>
<clipPath id="cpb"><rect x="349.5" y="1.5" width="241" height="404"/></clipPath>
<clipPath id="cib"><rect x="471.8" y="65.4" width="115.6" height="86.7"/></clipPath>
<g clip-path="url(#cpb)">
<g stroke="#555" stroke-width="0.55" stroke-opacity="0.9"><line x1="452.8" y1="39.9" x2="453.9" y2="35.3"/><line x1="465.3" y1="37.7" x2="458.2" y2="40.9"/><line x1="464.1" y1="29.4" x2="473.6" y2="38"/><line x1="458.7" y1="54.1" x2="465.3" y2="37.7"/><line x1="462.3" y1="53.1" x2="470.9" y2="42.4"/><line x1="479.1" y1="48.2" x2="486.3" y2="47.5"/><line x1="467.4" y1="48.7" x2="470.9" y2="42.4"/><line x1="467" y1="45" x2="458.2" y2="40.9"/><line x1="506.4" y1="26.1" x2="506.9" y2="19.9"/><line x1="505.7" y1="34.5" x2="505.7" y2="31.2"/><line x1="509.8" y1="37.7" x2="517.1" y2="27.8"/><line x1="526.1" y1="49.9" x2="530.5" y2="49.1"/><line x1="519.6" y1="38.5" x2="517.1" y2="40.2"/><line x1="500.6" y1="38.9" x2="494.5" y2="39.2"/><line x1="504.2" y1="41.8" x2="505.7" y2="31.2"/><line x1="506" y1="44.3" x2="506.9" y2="39.2"/><line x1="507.9" y1="36" x2="512.3" y2="38.5"/><line x1="446.4" y1="65.6" x2="446.4" y2="73.7"/><line x1="453.7" y1="82.4" x2="458.5" y2="85.9"/><line x1="450.7" y1="98" x2="451.5" y2="100.6"/><line x1="407" y1="93.6" x2="386.6" y2="79.6"/><line x1="422.2" y1="89.3" x2="417.3" y2="91.9"/><line x1="429.2" y1="88.9" x2="418.3" y2="95"/><line x1="389.3" y1="101.5" x2="392.1" y2="106.4"/><line x1="394.7" y1="101.5" x2="391.2" y2="111.7"/><line x1="389.4" y1="109.1" x2="391.2" y2="111.7"/><line x1="386.6" y1="113.4" x2="382.4" y2="113.8"/><line x1="383.1" y1="117.5" x2="360.9" y2="116.9"/><line x1="391.2" y1="116.9" x2="392.1" y2="106.4"/><line x1="409.4" y1="125.2" x2="407.7" y2="123.1"/><line x1="395.9" y1="132.7" x2="399.1" y2="122.5"/><line x1="398.5" y1="139.7" x2="401.2" y2="131.3"/><line x1="398.5" y1="143.7" x2="395" y2="130.4"/><line x1="384" y1="139.7" x2="360.9" y2="145.5"/><line x1="377.7" y1="148.4" x2="392" y2="205.3"/><line x1="383.6" y1="167.7" x2="407.8" y2="153.1"/><line x1="380.3" y1="174.7" x2="374.5" y2="178.7"/><line x1="431.5" y1="147.9" x2="453.2" y2="147"/><line x1="440.6" y1="172.9" x2="455.6" y2="151"/><line x1="442.3" y1="174.1" x2="447.2" y2="157.7"/><line x1="425.3" y1="173.4" x2="457.7" y2="158.9"/><line x1="413.9" y1="171.5" x2="407.5" y2="178.7"/><line x1="414.3" y1="153.1" x2="417.1" y2="157.7"/><line x1="415.2" y1="159.4" x2="416.2" y2="162.4"/><line x1="424.1" y1="166.3" x2="421.8" y2="162.9"/><line x1="420.6" y1="171.2" x2="424.5" y2="164.2"/><line x1="425.3" y1="155.4" x2="430.6" y2="157.7"/><line x1="414.5" y1="175.2" x2="429.7" y2="165.4"/><line x1="421.8" y1="177.7" x2="433.6" y2="173.4"/><line x1="417.4" y1="184.8" x2="420.6" y2="171.2"/><line x1="440.2" y1="146.1" x2="442" y2="146.1"/><line x1="460.7" y1="181.2" x2="469.1" y2="165"/><line x1="379.6" y1="196.4" x2="396.3" y2="199.6"/><line x1="381.4" y1="200.8" x2="396.3" y2="199.6"/><line x1="407.4" y1="198.1" x2="425.5" y2="209.2"/><line x1="410.3" y1="208.9" x2="428.2" y2="217.7"/><line x1="415.5" y1="218.9" x2="422.8" y2="225.9"/><line x1="414.1" y1="222.4" x2="409.7" y2="213"/><line x1="387.5" y1="220" x2="395.9" y2="215.9"/><line x1="396.3" y1="226.5" x2="394.5" y2="215.4"/><line x1="394.5" y1="205.4" x2="387.5" y2="207.2"/><line x1="399" y1="209.5" x2="391.6" y2="208.9"/><line x1="402.1" y1="209.8" x2="395.1" y2="210.1"/><line x1="405.6" y1="212.4" x2="399.8" y2="214.2"/><line x1="409.1" y1="210.5" x2="413.2" y2="212.4"/><line x1="404.5" y1="196.1" x2="398.6" y2="196.9"/><line x1="493.5" y1="196.3" x2="498.5" y2="190"/><line x1="474.1" y1="204.6" x2="471.9" y2="195.8"/><line x1="485" y1="185.8" x2="490.6" y2="184.3"/><line x1="469" y1="181.2" x2="472.9" y2="184.2"/><line x1="457.6" y1="235.7" x2="478.5" y2="235"/><line x1="486.5" y1="225.2" x2="528.1" y2="203.3"/><line x1="483.6" y1="237.9" x2="517.4" y2="204.6"/><line x1="511" y1="223.3" x2="531.8" y2="224"/><line x1="480.7" y1="209.4" x2="476.6" y2="213.5"/><line x1="497.4" y1="201.4" x2="505.5" y2="200.4"/><line x1="494.5" y1="208.2" x2="494.8" y2="201.1"/><line x1="515.7" y1="213.8" x2="520.8" y2="209.7"/><line x1="508.1" y1="205.8" x2="525.5" y2="211.2"/><line x1="509.6" y1="217.4" x2="506.2" y2="218.2"/><line x1="513.1" y1="225.5" x2="520.1" y2="225.2"/><line x1="527.4" y1="224" x2="517.9" y2="221.4"/><line x1="501.8" y1="224.5" x2="493.8" y2="225.5"/><line x1="496" y1="230.6" x2="492.6" y2="233.9"/><line x1="507.7" y1="232" x2="510.1" y2="231"/><line x1="489.4" y1="225.2" x2="495" y2="234.2"/><line x1="455.8" y1="243" x2="463.9" y2="243.7"/><line x1="481.4" y1="242.3" x2="518.6" y2="213.5"/><line x1="500.4" y1="204.6" x2="500.4" y2="210.1"/><line x1="457.4" y1="235.8" x2="474.1" y2="234.1"/><line x1="445.2" y1="254.5" x2="440.2" y2="260.4"/><line x1="456.9" y1="263.1" x2="446.6" y2="268.9"/><line x1="446.6" y1="268.9" x2="443.8" y2="266.9"/><line x1="476.7" y1="258.6" x2="481.4" y2="268.2"/><line x1="481.4" y1="268.2" x2="484.5" y2="279.8"/><line x1="448.7" y1="237.4" x2="453.1" y2="247.5"/><line x1="446.4" y1="248.5" x2="446.7" y2="245.2"/><line x1="455.1" y1="250.4" x2="449.3" y2="252.8"/><line x1="458" y1="257.8" x2="453.9" y2="262.9"/><line x1="463.9" y1="251.6" x2="465" y2="257.7"/><line x1="468.5" y1="254.3" x2="465.6" y2="261.5"/><line x1="463.9" y1="244" x2="455.9" y2="243.1"/><line x1="460.4" y1="254.5" x2="445.2" y2="257.4"/><line x1="458.6" y1="249.9" x2="443.8" y2="266.9"/><line x1="473.5" y1="304.6" x2="474" y2="295.3"/><line x1="431.3" y1="299.2" x2="450.4" y2="307"/><line x1="432.3" y1="307" x2="454.8" y2="309.9"/><line x1="430.2" y1="312.4" x2="450.1" y2="319.1"/><line x1="433.4" y1="309.5" x2="453.1" y2="319.1"/><line x1="462.6" y1="307.4" x2="466.7" y2="315.1"/><line x1="458" y1="310.5" x2="461.8" y2="322.1"/><line x1="436.4" y1="304.5" x2="441.6" y2="297.6"/><line x1="434" y1="308.4" x2="455.6" y2="315.9"/><line x1="453.1" y1="319.1" x2="451.8" y2="322.6"/><line x1="457.4" y1="300.8" x2="459.7" y2="303.1"/><line x1="457.6" y1="305.1" x2="462" y2="312.1"/><line x1="491.9" y1="341.3" x2="493.2" y2="336.7"/><line x1="495.1" y1="358.3" x2="486.2" y2="331.8"/><line x1="479.5" y1="353.8" x2="481.8" y2="358"/><line x1="472.9" y1="336.7" x2="465.7" y2="337.1"/><line x1="476.1" y1="336.7" x2="468" y2="334.2"/><line x1="479.9" y1="336.1" x2="480.5" y2="331.4"/><line x1="480.9" y1="338.6" x2="488.5" y2="340.5"/><line x1="512.2" y1="336.1" x2="525.5" y2="349.4"/><line x1="538.2" y1="351.9" x2="530.6" y2="342.4"/><line x1="508.8" y1="347.9" x2="509.7" y2="356.1"/><line x1="514.7" y1="347.1" x2="517.9" y2="344.1"/><line x1="519.2" y1="359.9" x2="516.9" y2="365.5"/><line x1="523.2" y1="363.7" x2="524.9" y2="366.5"/><line x1="530.2" y1="360.2" x2="539.3" y2="361.2"/><line x1="535.9" y1="356.4" x2="525.5" y2="349.4"/><line x1="516" y1="358" x2="520.4" y2="365"/><line x1="551.1" y1="361.2" x2="562.5" y2="376"/><line x1="562.5" y1="376" x2="565" y2="385.5"/><line x1="572.9" y1="364.6" x2="576.2" y2="357.6"/><line x1="572.9" y1="364.6" x2="565" y2="379.4"/><line x1="570.5" y1="381.1" x2="577.7" y2="387"/><line x1="565.3" y1="363.7" x2="566.7" y2="362.1"/><line x1="556.8" y1="354.5" x2="562.1" y2="359.9"/><line x1="548.8" y1="365.5" x2="562.5" y2="376"/><line x1="572.9" y1="364.6" x2="579.6" y2="368"/><line x1="454" y1="247.5" x2="482" y2="233.4"/><line x1="461" y1="249.8" x2="493.7" y2="231.1"/><line x1="468" y1="252.1" x2="496.1" y2="228.8"/><line x1="475" y1="249.8" x2="498.4" y2="224.1"/></g>
<g stroke="#000" stroke-width="0.6"><circle cx="452.8" cy="39.9" r="2.2" fill="#00f6e2"/><circle cx="465.3" cy="37.7" r="2.2" fill="#00f6e2"/><circle cx="473.6" cy="38" r="2.2" fill="#00f6e2"/><circle cx="475" cy="40.7" r="2.2" fill="#00f6e2"/><circle cx="473.6" cy="43" r="2.2" fill="#00f6e2"/><circle cx="467" cy="45" r="2.2" fill="#00f6e2"/><circle cx="467.4" cy="48.7" r="2.2" fill="#00f6e2"/><circle cx="458.7" cy="54.1" r="2.2" fill="#00f6e2"/><circle cx="462.3" cy="53.1" r="2.2" fill="#00f6e2"/><circle cx="479.1" cy="48.2" r="2.2" fill="#00f6e2"/><circle cx="506.4" cy="26.1" r="2.2" fill="#a000c4"/><circle cx="505.7" cy="34.5" r="2.2" fill="#a000c4"/><circle cx="507.9" cy="36" r="2.2" fill="#a000c4"/><circle cx="509.8" cy="37.7" r="2.2" fill="#a000c4"/><circle cx="500.6" cy="38.9" r="2.2" fill="#a000c4"/><circle cx="504.2" cy="41.8" r="2.2" fill="#a000c4"/><circle cx="498.4" cy="43.3" r="2.2" fill="#a000c4"/><circle cx="506" cy="44.3" r="2.2" fill="#a000c4"/><circle cx="519.6" cy="38.5" r="2.2" fill="#a000c4"/><circle cx="526.1" cy="49.9" r="2.2" fill="#a000c4"/><circle cx="446.4" cy="65.6" r="2.2" fill="#ffc800"/><circle cx="453.7" cy="82.4" r="2.2" fill="#ffc800"/><circle cx="450.2" cy="88" r="2.2" fill="#ffc800"/><circle cx="452.5" cy="90.7" r="2.2" fill="#ffc800"/><circle cx="449" cy="92.4" r="2.2" fill="#ffc800"/><circle cx="447.9" cy="94.2" r="2.2" fill="#ffc800"/><circle cx="452.9" cy="94.7" r="2.2" fill="#ffc800"/><circle cx="450.7" cy="98" r="2.2" fill="#ffc800"/><circle cx="407" cy="93.6" r="2.2" fill="#b04f00"/><circle cx="422.2" cy="89.3" r="2.2" fill="#b04f00"/><circle cx="429.2" cy="88.9" r="2.2" fill="#b04f00"/><circle cx="389.3" cy="101.5" r="2.2" fill="#00ff00"/><circle cx="394.7" cy="101.5" r="2.2" fill="#00ff00"/><circle cx="389.4" cy="109.1" r="2.2" fill="#00ff00"/><circle cx="386.6" cy="113.4" r="2.2" fill="#00ff00"/><circle cx="383.1" cy="117.5" r="2.2" fill="#00ff00"/><circle cx="391.2" cy="116.9" r="2.2" fill="#00ff00"/><circle cx="409.4" cy="125.2" r="2.2" fill="#00ff00"/><circle cx="395.9" cy="132.7" r="2.2" fill="#00ff00"/><circle cx="398.5" cy="139.7" r="2.2" fill="#00ff00"/><circle cx="398.5" cy="143.7" r="2.2" fill="#00ff00"/><circle cx="384" cy="139.7" r="2.2" fill="#00ff00"/><circle cx="407.8" cy="153.1" r="2.2" fill="#0000ff"/><circle cx="414.3" cy="153.1" r="2.2" fill="#0000ff"/><circle cx="425.3" cy="155.4" r="2.2" fill="#0000ff"/><circle cx="415.2" cy="159.4" r="2.2" fill="#0000ff"/><circle cx="424.1" cy="166.3" r="2.2" fill="#0000ff"/><circle cx="420.6" cy="171.2" r="2.2" fill="#0000ff"/><circle cx="413.9" cy="171.5" r="2.2" fill="#0000ff"/><circle cx="414.5" cy="175.2" r="2.2" fill="#0000ff"/><circle cx="425.3" cy="173.4" r="2.2" fill="#0000ff"/><circle cx="421.8" cy="177.7" r="2.2" fill="#0000ff"/><circle cx="417.4" cy="184.8" r="2.2" fill="#0000ff"/><circle cx="440.6" cy="172.9" r="2.2" fill="#0000ff"/><circle cx="442.3" cy="174.1" r="2.2" fill="#0000ff"/><circle cx="431.5" cy="147.9" r="2.2" fill="#0000ff"/><circle cx="440.2" cy="146.1" r="2.2" fill="#0000ff"/><circle cx="380.3" cy="174.7" r="2.2" fill="#0000ff"/><circle cx="460.7" cy="181.2" r="2.2" fill="#0000ff"/><circle cx="404.5" cy="196.1" r="2.2" fill="#ff0000"/><circle cx="407.4" cy="198.1" r="2.2" fill="#ff0000"/><circle cx="396.3" cy="199.6" r="2.2" fill="#ff0000"/><circle cx="399.2" cy="202.3" r="2.2" fill="#ff0000"/><circle cx="403.9" cy="202.5" r="2.2" fill="#ff0000"/><circle cx="400.6" cy="203.7" r="2.2" fill="#ff0000"/><circle cx="394.5" cy="205.4" r="2.2" fill="#ff0000"/><circle cx="405" cy="206.6" r="2.2" fill="#ff0000"/><circle cx="408.5" cy="207.2" r="2.2" fill="#ff0000"/><circle cx="410.3" cy="208.9" r="2.2" fill="#ff0000"/><circle cx="399" cy="209.5" r="2.2" fill="#ff0000"/><circle cx="402.1" cy="209.8" r="2.2" fill="#ff0000"/><circle cx="405.6" cy="212.4" r="2.2" fill="#ff0000"/><circle cx="409.1" cy="210.5" r="2.2" fill="#ff0000"/><circle cx="395.9" cy="215.9" r="2.2" fill="#ff0000"/><circle cx="415.5" cy="218.9" r="2.2" fill="#ff0000"/><circle cx="407.1" cy="205.4" r="2.2" fill="#ff0000"/><circle cx="402.7" cy="206.6" r="2.2" fill="#ff0000"/><circle cx="396.3" cy="226.5" r="2.2" fill="#00ff00"/><circle cx="469" cy="181.2" r="2.2" fill="#f292f2"/><circle cx="485" cy="185.8" r="2.2" fill="#f292f2"/><circle cx="493.5" cy="196.3" r="2.2" fill="#f292f2"/><circle cx="497.4" cy="201.4" r="2.2" fill="#f292f2"/><circle cx="500.4" cy="204.6" r="2.2" fill="#f292f2"/><circle cx="474.1" cy="204.6" r="2.2" fill="#f292f2"/><circle cx="480.7" cy="209.4" r="2.2" fill="#f292f2"/><circle cx="494.5" cy="208.2" r="2.2" fill="#f292f2"/><circle cx="497" cy="208.2" r="2.2" fill="#f292f2"/><circle cx="493.8" cy="212.3" r="2.2" fill="#f292f2"/><circle cx="488.2" cy="214.5" r="2.2" fill="#f292f2"/><circle cx="508.1" cy="205.8" r="2.2" fill="#f292f2"/><circle cx="508.4" cy="208.2" r="2.2" fill="#f292f2"/><circle cx="515.7" cy="213.8" r="2.2" fill="#f292f2"/><circle cx="509.6" cy="217.4" r="2.2" fill="#f292f2"/><circle cx="484.7" cy="219.6" r="2.2" fill="#f292f2"/><circle cx="482.1" cy="223.3" r="2.2" fill="#f292f2"/><circle cx="485" cy="221.8" r="2.2" fill="#f292f2"/><circle cx="489.4" cy="225.2" r="2.2" fill="#f292f2"/><circle cx="494.5" cy="221.4" r="2.2" fill="#f292f2"/><circle cx="501.8" cy="224.5" r="2.2" fill="#f292f2"/><circle cx="511" cy="223.3" r="2.2" fill="#f292f2"/><circle cx="513.1" cy="225.5" r="2.2" fill="#f292f2"/><circle cx="527.4" cy="224" r="2.2" fill="#f292f2"/><circle cx="493.4" cy="229.9" r="2.2" fill="#f292f2"/><circle cx="496" cy="230.6" r="2.2" fill="#f292f2"/><circle cx="502.6" cy="231.3" r="2.2" fill="#f292f2"/><circle cx="507.7" cy="232" r="2.2" fill="#f292f2"/><circle cx="486.5" cy="225.2" r="2.2" fill="#f292f2"/><circle cx="460.9" cy="180.9" r="2.2" fill="#0000ff"/><polygon points="474.1,232.1 472.2,235.7 476,235.7" fill="#f292f2"/><polygon points="481.4,240.2 479.5,243.7 483.3,243.7" fill="#f292f2"/><polygon points="484.3,238 482.4,241.5 486.2,241.5" fill="#f292f2"/><circle cx="478.5" cy="235" r="2.2" fill="#2e7d2e"/><circle cx="482.1" cy="235" r="2.2" fill="#2e7d2e"/><circle cx="482.8" cy="237.4" r="2.2" fill="#2e7d2e"/><circle cx="463.9" cy="243.7" r="2.2" fill="#2e7d2e"/><polygon points="476,240.2 474.1,243.7 477.9,243.7" fill="#2e7d2e"/><polygon points="483.6,235.8 481.7,239.3 485.5,239.3" fill="#2e7d2e"/><circle cx="448.7" cy="237.4" r="2.2" fill="#2e7d2e"/><circle cx="446.4" cy="248.5" r="2.2" fill="#2e7d2e"/><circle cx="453.1" cy="247.5" r="2.2" fill="#2e7d2e"/><circle cx="455.1" cy="250.4" r="2.2" fill="#2e7d2e"/><circle cx="458.6" cy="249.9" r="2.2" fill="#2e7d2e"/><circle cx="463.9" cy="244" r="2.2" fill="#2e7d2e"/><circle cx="463.9" cy="251.6" r="2.2" fill="#2e7d2e"/><circle cx="445.2" cy="254.5" r="2.2" fill="#2e7d2e"/><circle cx="456.3" cy="254.5" r="2.2" fill="#2e7d2e"/><circle cx="460.4" cy="254.5" r="2.2" fill="#2e7d2e"/><circle cx="458" cy="257.8" r="2.2" fill="#2e7d2e"/><circle cx="468.5" cy="254.3" r="2.2" fill="#2e7d2e"/><circle cx="470.9" cy="251.6" r="2.2" fill="#2e7d2e"/><circle cx="456.9" cy="263.1" r="2.2" fill="#2e7d2e"/><circle cx="476.7" cy="258.6" r="2.2" fill="#2e7d2e"/><circle cx="453.9" cy="252.2" r="2.2" fill="#2e7d2e"/><circle cx="456.9" cy="252.2" r="2.2" fill="#2e7d2e"/><circle cx="461.5" cy="252.2" r="2.2" fill="#2e7d2e"/><circle cx="459.2" cy="247.5" r="2.2" fill="#2e7d2e"/><polygon points="480,254.8 478.1,258.3 481.9,258.3" fill="#2e7d2e"/><polygon points="475.8,240.8 473.9,244.3 477.7,244.3" fill="#2e7d2e"/><polygon points="474.1,232 472.2,235.5 476,235.5" fill="#f292f2"/><polygon points="481.4,240.5 479.5,244 483.3,244" fill="#f292f2"/><polygon points="484.3,238.2 482.4,241.7 486.2,241.7" fill="#f292f2"/><circle cx="441.6" cy="297.6" r="2.2" fill="#00aaff"/><circle cx="444.8" cy="297.6" r="2.2" fill="#00aaff"/><circle cx="436.4" cy="304.5" r="2.2" fill="#00aaff"/><circle cx="457.4" cy="300.8" r="2.2" fill="#00aaff"/><circle cx="450.4" cy="307" r="2.2" fill="#00aaff"/><circle cx="453.9" cy="307" r="2.2" fill="#00aaff"/><circle cx="457.6" cy="305.1" r="2.2" fill="#00aaff"/><circle cx="462.6" cy="307.4" r="2.2" fill="#00aaff"/><circle cx="454.8" cy="309.9" r="2.2" fill="#00aaff"/><circle cx="458" cy="310.5" r="2.2" fill="#00aaff"/><circle cx="455.6" cy="315.9" r="2.2" fill="#00aaff"/><circle cx="453.1" cy="319.1" r="2.2" fill="#00aaff"/><circle cx="450.1" cy="319.1" r="2.2" fill="#00aaff"/><circle cx="473.5" cy="304.6" r="2.2" fill="#00aaff"/><circle cx="472.9" cy="336.7" r="2.2" fill="#ffd600"/><circle cx="476.1" cy="336.7" r="2.2" fill="#ffd600"/><circle cx="479.9" cy="336.1" r="2.2" fill="#ffd600"/><circle cx="480.9" cy="338.6" r="2.2" fill="#ffd600"/><circle cx="475.6" cy="340.5" r="2.2" fill="#ffd600"/><circle cx="478.6" cy="344.3" r="2.2" fill="#ffd600"/><circle cx="491.9" cy="341.3" r="2.2" fill="#ffd600"/><circle cx="479.5" cy="353.8" r="2.2" fill="#ffd600"/><circle cx="495.1" cy="358.3" r="2.2" fill="#ffd600"/><circle cx="512.2" cy="336.1" r="2.2" fill="#a85000"/><circle cx="508.8" cy="347.9" r="2.2" fill="#a85000"/><circle cx="514.7" cy="347.1" r="2.2" fill="#a85000"/><circle cx="518.8" cy="352.3" r="2.2" fill="#a85000"/><circle cx="516" cy="358" r="2.2" fill="#a85000"/><circle cx="519.2" cy="359.9" r="2.2" fill="#a85000"/><circle cx="521.7" cy="356.4" r="2.2" fill="#a85000"/><circle cx="525.5" cy="355.1" r="2.2" fill="#a85000"/><circle cx="523.2" cy="363.7" r="2.2" fill="#a85000"/><circle cx="530.2" cy="360.2" r="2.2" fill="#a85000"/><circle cx="535.9" cy="356.4" r="2.2" fill="#a85000"/><circle cx="538.2" cy="351.9" r="2.2" fill="#a85000"/><circle cx="556.8" cy="354.5" r="2.2" fill="#9e00c4"/><circle cx="551.1" cy="361.2" r="2.2" fill="#9e00c4"/><circle cx="548.8" cy="365.5" r="2.2" fill="#9e00c4"/><circle cx="565.3" cy="363.7" r="2.2" fill="#9e00c4"/><circle cx="572.9" cy="364.6" r="2.2" fill="#9e00c4"/><circle cx="565" cy="379.4" r="2.2" fill="#9e00c4"/><circle cx="570.5" cy="381.1" r="2.2" fill="#9e00c4"/></g>
<g fill="#000"><circle cx="453.9" cy="35.3" r="1.4"/><circle cx="458.2" cy="40.9" r="1.4"/><circle cx="464.1" cy="29.4" r="1.4"/><circle cx="470.9" cy="42.4" r="1.4"/><circle cx="486.3" cy="47.5" r="1.4"/><circle cx="506.9" cy="19.9" r="1.4"/><circle cx="505.7" cy="31.2" r="1.4"/><circle cx="517.1" cy="27.8" r="1.4"/><circle cx="494.5" cy="39.2" r="1.4"/><circle cx="506.9" cy="39.2" r="1.4"/><circle cx="512.3" cy="38.5" r="1.4"/><circle cx="517.1" cy="40.2" r="1.4"/><circle cx="530.5" cy="49.1" r="1.4"/><circle cx="446.4" cy="73.7" r="1.4"/><circle cx="458.5" cy="85.9" r="1.4"/><circle cx="451.5" cy="100.6" r="1.4"/><circle cx="452" cy="89.4" r="1.4"/><circle cx="386.6" cy="79.6" r="1.4"/><circle cx="417.3" cy="91.9" r="1.4"/><circle cx="418.3" cy="95" r="1.4"/><circle cx="392.1" cy="106.4" r="1.4"/><circle cx="391.2" cy="111.7" r="1.4"/><circle cx="382.4" cy="113.8" r="1.4"/><circle cx="360.9" cy="116.9" r="1.4"/><circle cx="407.7" cy="123.1" r="1.4"/><circle cx="399.1" cy="122.5" r="1.4"/><circle cx="395" cy="130.4" r="1.4"/><circle cx="401.2" cy="131.3" r="1.4"/><circle cx="391.5" cy="139.4" r="1.4"/><circle cx="360.9" cy="145.5" r="1.4"/><circle cx="377.5" cy="148.5" r="1.4"/><circle cx="391.5" cy="139.1" r="1.4"/><circle cx="377.7" cy="148.4" r="1.4"/><circle cx="383.6" cy="167.7" r="1.4"/><circle cx="374.5" cy="178.7" r="1.4"/><circle cx="417.1" cy="157.7" r="1.4"/><circle cx="416.2" cy="162.4" r="1.4"/><circle cx="421.8" cy="162.9" r="1.4"/><circle cx="424.5" cy="164.2" r="1.4"/><circle cx="430.6" cy="157.7" r="1.4"/><circle cx="429.7" cy="165.4" r="1.4"/><circle cx="433.6" cy="173.4" r="1.4"/><circle cx="407.5" cy="178.7" r="1.4"/><circle cx="447.2" cy="157.7" r="1.4"/><circle cx="455.6" cy="151" r="1.4"/><circle cx="457.7" cy="158.9" r="1.4"/><circle cx="442" cy="146.1" r="1.4"/><circle cx="453.2" cy="147" r="1.4"/><circle cx="379.6" cy="196.4" r="1.4"/><circle cx="381.4" cy="200.8" r="1.4"/><circle cx="398.6" cy="196.9" r="1.4"/><circle cx="387.5" cy="207.2" r="1.4"/><circle cx="391.6" cy="208.9" r="1.4"/><circle cx="395.1" cy="210.1" r="1.4"/><circle cx="399.8" cy="214.2" r="1.4"/><circle cx="387.5" cy="220" r="1.4"/><circle cx="393.9" cy="215.1" r="1.4"/><circle cx="413.2" cy="212.4" r="1.4"/><circle cx="414.1" cy="222.4" r="1.4"/><circle cx="422.8" cy="225.9" r="1.4"/><circle cx="425.5" cy="209.2" r="1.4"/><circle cx="428.2" cy="217.7" r="1.4"/><circle cx="472.9" cy="184.2" r="1.4"/><circle cx="490.6" cy="184.3" r="1.4"/><circle cx="498.5" cy="190" r="1.4"/><circle cx="471.9" cy="195.8" r="1.4"/><circle cx="505.5" cy="200.4" r="1.4"/><circle cx="494.8" cy="201.1" r="1.4"/><circle cx="517.4" cy="204.6" r="1.4"/><circle cx="528.1" cy="203.3" r="1.4"/><circle cx="500.4" cy="210.1" r="1.4"/><circle cx="520.8" cy="209.7" r="1.4"/><circle cx="525.5" cy="211.2" r="1.4"/><circle cx="476.6" cy="213.5" r="1.4"/><circle cx="518.6" cy="213.5" r="1.4"/><circle cx="506.2" cy="218.2" r="1.4"/><circle cx="517.9" cy="221.4" r="1.4"/><circle cx="520.1" cy="225.2" r="1.4"/><circle cx="531.8" cy="224" r="1.4"/><circle cx="493.8" cy="225.5" r="1.4"/><circle cx="492.6" cy="233.9" r="1.4"/><circle cx="495" cy="234.2" r="1.4"/><circle cx="510.1" cy="231" r="1.4"/><circle cx="457.6" cy="235.7" r="1.4"/><circle cx="455.8" cy="243" r="1.4"/><circle cx="446.7" cy="245.2" r="1.4"/><circle cx="449.3" cy="252.8" r="1.4"/><circle cx="440.2" cy="260.4" r="1.4"/><circle cx="445.2" cy="257.4" r="1.4"/><circle cx="465" cy="257.7" r="1.4"/><circle cx="465.6" cy="261.5" r="1.4"/><circle cx="453.9" cy="262.9" r="1.4"/><circle cx="443.8" cy="266.9" r="1.4"/><circle cx="446.6" cy="268.9" r="1.4"/><circle cx="481.4" cy="268.2" r="1.4"/><circle cx="484.5" cy="279.8" r="1.4"/><circle cx="481" cy="258" r="1.4"/><circle cx="455.9" cy="243.1" r="1.4"/><circle cx="457.4" cy="235.8" r="1.4"/><circle cx="431.3" cy="299.2" r="1.4"/><circle cx="432.3" cy="307" r="1.4"/><circle cx="433.4" cy="309.5" r="1.4"/><circle cx="430.2" cy="312.4" r="1.4"/><circle cx="459.7" cy="303.1" r="1.4"/><circle cx="462" cy="312.1" r="1.4"/><circle cx="466.7" cy="315.1" r="1.4"/><circle cx="461.8" cy="322.1" r="1.4"/><circle cx="451.8" cy="322.6" r="1.4"/><circle cx="474" cy="295.3" r="1.4"/><circle cx="434" cy="308.4" r="1.4"/><circle cx="465.7" cy="337.1" r="1.4"/><circle cx="468" cy="334.2" r="1.4"/><circle cx="480.5" cy="331.4" r="1.4"/><circle cx="486.2" cy="331.8" r="1.4"/><circle cx="488.5" cy="340.5" r="1.4"/><circle cx="493.2" cy="336.7" r="1.4"/><circle cx="481.8" cy="358" r="1.4"/><circle cx="517.9" cy="344.1" r="1.4"/><circle cx="525.5" cy="349.4" r="1.4"/><circle cx="530.6" cy="342.4" r="1.4"/><circle cx="509.7" cy="356.1" r="1.4"/><circle cx="516.9" cy="365.5" r="1.4"/><circle cx="520.4" cy="365" r="1.4"/><circle cx="524.9" cy="366.5" r="1.4"/><circle cx="539.3" cy="361.2" r="1.4"/><circle cx="562.1" cy="359.9" r="1.4"/><circle cx="566.7" cy="362.1" r="1.4"/><circle cx="576.2" cy="357.6" r="1.4"/><circle cx="579.6" cy="368" r="1.4"/><circle cx="562.5" cy="376" r="1.4"/><circle cx="565" cy="385.5" r="1.4"/><circle cx="577.7" cy="387" r="1.4"/></g>
</g>
<rect x="471.8" y="65.4" width="115.6" height="86.7" fill="#fff"/>
<g clip-path="url(#cib)">
<g stroke="#5a5a5a" stroke-width="1.1"><line x1="481.3" y1="108.5" x2="533.5" y2="107.1"/><line x1="476.4" y1="123.9" x2="472.3" y2="127.5"/><line x1="498" y1="126.2" x2="500.4" y2="123"/><line x1="473.6" y1="136.6" x2="536.5" y2="106.9"/><line x1="492.7" y1="151.6" x2="533.5" y2="122.1"/><line x1="513.1" y1="149.8" x2="547.5" y2="111.2"/><line x1="474.1" y1="135.7" x2="473.6" y2="139.3"/><line x1="482.3" y1="137.3" x2="498.6" y2="139.8"/><line x1="483.2" y1="141.2" x2="498.3" y2="143"/><line x1="488.6" y1="148.9" x2="494.1" y2="144.8"/><line x1="509.8" y1="148" x2="504.3" y2="146.8"/><line x1="516.7" y1="142.8" x2="509.8" y2="148"/><line x1="475.4" y1="143.4" x2="473.6" y2="139.3"/><line x1="525.9" y1="104.9" x2="586.1" y2="90.3"/><line x1="528" y1="107.1" x2="551.8" y2="105.9"/><line x1="536.6" y1="107.1" x2="545.2" y2="105.3"/><line x1="551.8" y1="117.6" x2="568.4" y2="94.9"/><line x1="544.8" y1="123" x2="586.6" y2="102.1"/><line x1="555.2" y1="73.5" x2="580.5" y2="78.5"/><line x1="556.6" y1="74.7" x2="579.6" y2="105.9"/><line x1="545.7" y1="81.7" x2="567" y2="81.9"/><line x1="580.5" y1="78.5" x2="582.5" y2="65.8"/><line x1="567.5" y1="93.5" x2="577" y2="86"/><line x1="560.9" y1="96.7" x2="567.5" y2="93.5"/><line x1="554.3" y1="83.5" x2="581.7" y2="105"/><line x1="560.2" y1="84.4" x2="572.5" y2="105.3"/><line x1="576.1" y1="96.2" x2="571.6" y2="94.9"/><line x1="565.7" y1="85.8" x2="586.1" y2="93"/><line x1="559.8" y1="88.1" x2="557.5" y2="86.2"/><line x1="580.5" y1="78.5" x2="587.9" y2="77.6"/></g>
<g stroke="#000" stroke-width="0.6"><circle cx="498" cy="126.2" r="2.9" fill="#2e7d2e"/><circle cx="474.1" cy="135.7" r="2.9" fill="#2e7d2e"/><circle cx="482.3" cy="137.3" r="2.9" fill="#2e7d2e"/><circle cx="483.2" cy="141.2" r="2.9" fill="#2e7d2e"/><circle cx="475.4" cy="143.4" r="2.9" fill="#2e7d2e"/><circle cx="481.8" cy="146.6" r="2.9" fill="#2e7d2e"/><circle cx="477.7" cy="148.9" r="2.9" fill="#2e7d2e"/><circle cx="488.6" cy="148.9" r="2.9" fill="#2e7d2e"/><circle cx="490" cy="135.3" r="2.9" fill="#2e7d2e"/><circle cx="495" cy="134.8" r="2.9" fill="#2e7d2e"/><circle cx="498.3" cy="143" r="2.9" fill="#2e7d2e"/><circle cx="509.8" cy="148" r="2.9" fill="#2e7d2e"/><circle cx="516.7" cy="142.8" r="2.9" fill="#2e7d2e"/><polygon points="525.8,101.7 522.9,107 528.7,107" fill="#f292f2"/><circle cx="553" cy="69.9" r="2.9" fill="#f292f2"/><circle cx="555.2" cy="73.5" r="2.9" fill="#f292f2"/><circle cx="555.1" cy="77.6" r="2.9" fill="#f292f2"/><circle cx="545.7" cy="81.7" r="2.9" fill="#f292f2"/><circle cx="554.3" cy="83.5" r="2.9" fill="#f292f2"/><circle cx="560.2" cy="84.4" r="2.9" fill="#f292f2"/><circle cx="565.7" cy="85.8" r="2.9" fill="#f292f2"/><circle cx="559.8" cy="88.1" r="2.9" fill="#f292f2"/><circle cx="567.5" cy="93.5" r="2.9" fill="#f292f2"/><circle cx="576.1" cy="96.2" r="2.9" fill="#f292f2"/><circle cx="584.3" cy="98" r="2.9" fill="#f292f2"/><circle cx="586.1" cy="93" r="2.9" fill="#f292f2"/><circle cx="580.5" cy="78.5" r="2.9" fill="#f292f2"/><circle cx="586.1" cy="68.5" r="2.9" fill="#f292f2"/><circle cx="562.9" cy="65.4" r="2.9" fill="#f292f2"/><circle cx="575.7" cy="65.4" r="2.9" fill="#f292f2"/><circle cx="536.6" cy="107.1" r="2.9" fill="#2e7d2e"/><polygon points="545.2,102.1 542.3,107.5 548.1,107.5" fill="#2e7d2e"/><polygon points="547.5,108 544.6,113.4 550.4,113.4" fill="#2e7d2e"/><polygon points="530,120.3 527.1,125.6 532.9,125.6" fill="#2e7d2e"/><polygon points="548.7,103.9 545.8,109.3 551.6,109.3" fill="#f292f2"/><polygon points="551.8,114.4 548.9,119.7 554.7,119.7" fill="#f292f2"/><polygon points="544.8,119.8 541.9,125.2 547.7,125.2" fill="#f292f2"/></g>
<g fill="#000"><circle cx="481.3" cy="108.5" r="1.2"/><circle cx="476.4" cy="123.9" r="1.2"/><circle cx="500.4" cy="123" r="1.2"/><circle cx="473.6" cy="139.3" r="1.2"/><circle cx="498.6" cy="139.8" r="1.2"/><circle cx="494.1" cy="144.8" r="1.2"/><circle cx="504.3" cy="146.8" r="1.2"/><circle cx="567" cy="81.9" r="1.2"/><circle cx="556.6" cy="74.7" r="1.2"/><circle cx="577" cy="86" r="1.2"/><circle cx="560.9" cy="96.7" r="1.2"/><circle cx="571.6" cy="94.9" r="1.2"/><circle cx="572.5" cy="105.3" r="1.2"/><circle cx="579.6" cy="105.9" r="1.2"/><circle cx="581.7" cy="105" r="1.2"/><circle cx="551.8" cy="105.9" r="1.2"/><circle cx="568.4" cy="90.3" r="1.2"/><circle cx="557.5" cy="86.2" r="1.2"/></g>
</g>
<rect x="471.8" y="65.4" width="115.6" height="86.7" fill="none" stroke="#111" stroke-width="1.5"/>
<g stroke="#444" stroke-width="1.4" stroke-dasharray="5.5,3">
<line x1="471.8" y1="152.1" x2="452.7" y2="216.6"/>
<line x1="587.4" y1="152.1" x2="498.4" y2="216.6"/>
</g>
<rect x="452.7" y="216.6" width="45.7" height="31.6" fill="none" stroke="#1a2f3c" stroke-width="2"/>
<rect x="349.5" y="1.5" width="241" height="404" fill="none" stroke="#222" stroke-width="1"/>
<g stroke="#222" stroke-width="0.9"><line x1="372.6" y1="405.5" x2="372.6" y2="409"/><line x1="435.5" y1="405.5" x2="435.5" y2="409"/><line x1="498.4" y1="405.5" x2="498.4" y2="409"/><line x1="561.3" y1="405.5" x2="561.3" y2="409"/><line x1="349.5" y1="6.3" x2="346" y2="6.3"/><line x1="349.5" y1="64.5" x2="346" y2="64.5"/><line x1="349.5" y1="122.8" x2="346" y2="122.8"/><line x1="349.5" y1="181" x2="346" y2="181"/><line x1="349.5" y1="239.2" x2="346" y2="239.2"/><line x1="349.5" y1="297.5" x2="346" y2="297.5"/><line x1="349.5" y1="355.7" x2="346" y2="355.7"/></g>
<g font-size="11.7" fill="#222"><text x="372.6" y="421.8" text-anchor="middle">565</text><text x="435.5" y="421.8" text-anchor="middle">570</text><text x="498.4" y="421.8" text-anchor="middle">575</text><text x="561.3" y="421.8" text-anchor="middle">580</text><text x="341.6" y="10.6" text-anchor="end">80</text><text x="341.6" y="68.8" text-anchor="end">85</text><text x="341.6" y="127.1" text-anchor="end">90</text><text x="341.6" y="185.3" text-anchor="end">95</text><text x="341.6" y="243.5" text-anchor="end">100</text><text x="341.6" y="301.8" text-anchor="end">105</text><text x="341.6" y="360" text-anchor="end">110</text></g>
<text x="469" y="436.4" text-anchor="middle" font-size="11.5" fill="#222" textLength="66" lengthAdjust="spacingAndGlyphs">M1_pred_AA</text>
<text transform="translate(316,204.6) rotate(-90)" text-anchor="middle" font-size="11.5" fill="#222" textLength="65.3" lengthAdjust="spacingAndGlyphs">M2_pred_AA</text>
<text x="467.9" y="477" text-anchor="middle" font-size="22" font-weight="bold" fill="#000">b</text>
<clipPath id="cpc"><rect x="43.5" y="513" width="241" height="403.8"/></clipPath>
<clipPath id="cic"><rect x="161.5" y="582.7" width="118.9" height="83.6"/></clipPath>
<g clip-path="url(#cpc)">
<g stroke="#555" stroke-width="0.55" stroke-opacity="0.9"><line x1="158.2" y1="541.2" x2="161.9" y2="558.2"/><line x1="161.9" y1="558.2" x2="164.1" y2="566.7"/><line x1="151.4" y1="549.2" x2="148" y2="547"/><line x1="164.1" y1="551.4" x2="167" y2="548.9"/><line x1="155.3" y1="553.3" x2="152.8" y2="552.4"/><line x1="159" y1="552.4" x2="158.7" y2="548.8"/><line x1="168.2" y1="555.5" x2="168.5" y2="551.4"/><line x1="181.2" y1="557.7" x2="180.1" y2="559.4"/><line x1="183.8" y1="551.4" x2="201.3" y2="531.4"/><line x1="188.9" y1="550.7" x2="199.1" y2="570.4"/><line x1="218.8" y1="562.6" x2="224.4" y2="560.4"/><line x1="207.4" y1="546.7" x2="211.2" y2="539.3"/><line x1="199.9" y1="543.4" x2="201.3" y2="537.5"/><line x1="196.6" y1="549.9" x2="201" y2="550.7"/><line x1="198.4" y1="556.2" x2="201" y2="553.6"/><line x1="205.4" y1="545.5" x2="206.4" y2="549.9"/><line x1="86.1" y1="595.3" x2="80.8" y2="591.2"/><line x1="109.4" y1="600.9" x2="112.6" y2="606.5"/><line x1="117.8" y1="604.1" x2="111.5" y2="603.8"/><line x1="142.3" y1="588.8" x2="140.7" y2="585.3"/><line x1="150.4" y1="599.6" x2="152.8" y2="597.3"/><line x1="139.9" y1="608.9" x2="146" y2="612.1"/><line x1="62.5" y1="627.4" x2="54.8" y2="628.2"/><line x1="82.9" y1="615" x2="83.7" y2="621.8"/><line x1="86.6" y1="612.4" x2="86.6" y2="618.1"/><line x1="77" y1="624.2" x2="85" y2="622.6"/><line x1="89.3" y1="623.4" x2="83.7" y2="621.8"/><line x1="95.3" y1="639.7" x2="93" y2="633.8"/><line x1="101.1" y1="638.1" x2="101.7" y2="634.6"/><line x1="93.4" y1="643.9" x2="89.3" y2="641.8"/><line x1="147.6" y1="637.8" x2="130.3" y2="652.3"/><line x1="69.8" y1="647.9" x2="54.4" y2="657"/><line x1="71.9" y1="659.8" x2="92.6" y2="643.5"/><line x1="132.3" y1="652.3" x2="145.1" y2="640"/><line x1="88.2" y1="678.5" x2="77.7" y2="679.4"/><line x1="90.8" y1="675.6" x2="68.9" y2="690.3"/><line x1="107.4" y1="686.4" x2="101.3" y2="690.3"/><line x1="136.7" y1="672.9" x2="150" y2="662.4"/><line x1="132.3" y1="674.7" x2="152.1" y2="670.3"/><line x1="111.5" y1="667.5" x2="125" y2="668.9"/><line x1="116.6" y1="682.6" x2="127.6" y2="685"/><line x1="126.7" y1="671.5" x2="141.3" y2="669.8"/><line x1="110.1" y1="675.9" x2="111" y2="672.9"/><line x1="117.1" y1="677.7" x2="115.7" y2="674.7"/><line x1="123.7" y1="679.9" x2="124.1" y2="676.8"/><line x1="112.7" y1="682" x2="118.8" y2="675.6"/><line x1="132.3" y1="658.9" x2="136" y2="657.5"/><line x1="88" y1="703.8" x2="75.4" y2="712.3"/><line x1="73.4" y1="707.6" x2="90.4" y2="718.4"/><line x1="113.5" y1="707.6" x2="119.8" y2="720.3"/><line x1="106.7" y1="719.5" x2="122.5" y2="729.1"/><line x1="103.4" y1="731" x2="116.9" y2="737.3"/><line x1="88.6" y1="723" x2="81.6" y2="731.8"/><line x1="85.7" y1="718.1" x2="81.6" y2="718.9"/><line x1="106.5" y1="727.9" x2="110.8" y2="731.8"/><line x1="98.5" y1="726.3" x2="108.5" y2="733.3"/><line x1="92.5" y1="723.6" x2="90.6" y2="727.7"/><line x1="94.1" y1="711.4" x2="100.9" y2="710.2"/><line x1="89.8" y1="708.4" x2="92.7" y2="708.1"/><line x1="100.3" y1="716.6" x2="99.7" y2="713.9"/><line x1="103.2" y1="723.6" x2="107.9" y2="723.3"/><line x1="167.7" y1="690.2" x2="163.8" y2="680.7"/><line x1="165.5" y1="692.7" x2="167.1" y2="695.8"/><line x1="182.8" y1="700.6" x2="184.8" y2="695.8"/><line x1="191.8" y1="710" x2="192.7" y2="701.3"/><line x1="198.4" y1="715.2" x2="199.9" y2="711.5"/><line x1="166" y1="707.2" x2="180.6" y2="725.7"/><line x1="174" y1="726.6" x2="170.4" y2="725.3"/><line x1="184.8" y1="722.3" x2="184.4" y2="725.6"/><line x1="191.4" y1="717.4" x2="190.7" y2="725.7"/><line x1="199.7" y1="718.4" x2="201" y2="722.7"/><line x1="218.3" y1="710" x2="212" y2="716.1"/><line x1="210.7" y1="722" x2="219.6" y2="722.3"/><line x1="208.9" y1="723.4" x2="213.1" y2="724.9"/><line x1="203.9" y1="734.5" x2="201" y2="729.7"/><line x1="214.4" y1="737.2" x2="212" y2="732.8"/><line x1="219.4" y1="735.8" x2="222.5" y2="733.6"/><line x1="219.4" y1="735.8" x2="225.9" y2="735.2"/><line x1="194.7" y1="720.7" x2="201" y2="729.7"/><line x1="171.9" y1="745.1" x2="151.5" y2="747.1"/><line x1="177.5" y1="779.9" x2="175.2" y2="768.8"/><line x1="177.5" y1="779.9" x2="178.9" y2="789.8"/><line x1="146.9" y1="755.4" x2="141" y2="756.9"/><line x1="162" y1="757.6" x2="159.2" y2="753.9"/><line x1="154.8" y1="761.5" x2="158.4" y2="761.5"/><line x1="165.3" y1="767.1" x2="160.7" y2="765.2"/><line x1="145" y1="764.4" x2="139.7" y2="768.5"/><line x1="145.6" y1="768.1" x2="134.5" y2="771.8"/><line x1="152.2" y1="768.1" x2="159.4" y2="772.7"/><line x1="151.3" y1="772.7" x2="148.2" y2="774"/><line x1="142.3" y1="778.6" x2="137.7" y2="778.4"/><line x1="142.3" y1="778.6" x2="140.8" y2="780.6"/><line x1="144.7" y1="747.5" x2="146.9" y2="755.4"/><line x1="173.9" y1="766.1" x2="159.4" y2="768.1"/><line x1="182.8" y1="743.1" x2="188.3" y2="745.8"/><line x1="178.2" y1="750" x2="178.5" y2="746.4"/><line x1="197.5" y1="739.5" x2="204.1" y2="742.9"/><line x1="125.5" y1="810.2" x2="134.7" y2="808.5"/><line x1="124.5" y1="823.6" x2="138.2" y2="823"/><line x1="127.7" y1="821" x2="138.2" y2="825.6"/><line x1="126.4" y1="818.4" x2="132.6" y2="813.1"/><line x1="127.1" y1="822.3" x2="133" y2="816.8"/><line x1="158" y1="819.4" x2="154.7" y2="815.5"/><line x1="157.3" y1="823" x2="152" y2="825"/><line x1="155.3" y1="820" x2="161" y2="826.3"/><line x1="146.8" y1="828.2" x2="148.1" y2="831.5"/><line x1="144.8" y1="826.9" x2="146.1" y2="833.9"/><line x1="153.4" y1="830.6" x2="156" y2="833.5"/><line x1="164.1" y1="806.8" x2="167.8" y2="806.3"/><line x1="168" y1="844.8" x2="162.3" y2="846.2"/><line x1="165.9" y1="849.3" x2="160.2" y2="848.9"/><line x1="173.5" y1="846.9" x2="174.9" y2="843.2"/><line x1="178" y1="850.3" x2="182.3" y2="851.8"/><line x1="192.5" y1="852.4" x2="187.4" y2="848.3"/><line x1="198" y1="860.1" x2="174.9" y2="843.2"/><line x1="177.6" y1="864.2" x2="175.5" y2="869.3"/><line x1="223.2" y1="854.8" x2="212.3" y2="855.4"/><line x1="223.2" y1="854.8" x2="224.6" y2="853.8"/><line x1="229.7" y1="858.9" x2="232.8" y2="862.2"/><line x1="207.2" y1="860.5" x2="203.5" y2="867.7"/><line x1="211.9" y1="860.5" x2="219.5" y2="861.2"/><line x1="210.3" y1="867.7" x2="211.3" y2="877.3"/><line x1="219.1" y1="874.9" x2="219.1" y2="878.3"/><line x1="226.2" y1="870.2" x2="233.4" y2="872.4"/><line x1="215" y1="862.6" x2="214.4" y2="865.7"/><line x1="231.7" y1="866.1" x2="229.7" y2="858.9"/><line x1="260.8" y1="866.7" x2="270.2" y2="869.1"/><line x1="264.4" y1="872.8" x2="261.4" y2="873.4"/><line x1="266.9" y1="874.9" x2="273.6" y2="879.3"/><line x1="253.6" y1="876.3" x2="256.3" y2="871.4"/><line x1="253.8" y1="884" x2="256.3" y2="887.1"/><line x1="256.7" y1="891.2" x2="259.3" y2="896.7"/><line x1="265.9" y1="893.7" x2="272" y2="898.4"/><line x1="159" y1="753.8" x2="182.3" y2="742.6"/><line x1="155.3" y1="765.9" x2="178" y2="746.9"/><line x1="148.8" y1="754.2" x2="145.1" y2="758.6"/><line x1="162.6" y1="758.6" x2="159" y2="753.8"/><line x1="183.8" y1="745.5" x2="182.3" y2="740.4"/><line x1="189.6" y1="745.2" x2="194.7" y2="743.3"/><line x1="142.9" y1="768.8" x2="146.6" y2="764.5"/><line x1="150.2" y1="773.9" x2="152.4" y2="774.7"/></g>
<g stroke="#000" stroke-width="0.6"><circle cx="151.4" cy="549.2" r="2" fill="#00f6e2"/><circle cx="155.3" cy="553.3" r="2" fill="#00f6e2"/><circle cx="159" cy="552.4" r="2" fill="#00f6e2"/><circle cx="158.2" cy="555.3" r="2" fill="#00f6e2"/><circle cx="164.1" cy="551.4" r="2" fill="#00f6e2"/><circle cx="165.5" cy="554.7" r="2" fill="#00f6e2"/><circle cx="168.2" cy="555.5" r="2" fill="#00f6e2"/><circle cx="161.9" cy="558.2" r="2" fill="#00f6e2"/><circle cx="164.1" cy="566.7" r="2" fill="#00f6e2"/><circle cx="181.2" cy="557.7" r="2" fill="#00f6e2"/><circle cx="183.8" cy="551.4" r="2" fill="#a000c4"/><circle cx="196.6" cy="549.9" r="2" fill="#a000c4"/><circle cx="199.9" cy="543.4" r="2" fill="#a000c4"/><circle cx="202.5" cy="543.6" r="2" fill="#a000c4"/><circle cx="205.4" cy="545.5" r="2" fill="#a000c4"/><circle cx="207.4" cy="546.7" r="2" fill="#a000c4"/><circle cx="211.1" cy="550.4" r="2" fill="#a000c4"/><circle cx="198.4" cy="556.2" r="2" fill="#a000c4"/><circle cx="199.1" cy="570.4" r="2" fill="#a000c4"/><circle cx="218.8" cy="562.6" r="2" fill="#a000c4"/><circle cx="86.1" cy="595.3" r="2" fill="#b04f00"/><circle cx="109.4" cy="600.9" r="2" fill="#b04f00"/><circle cx="117.8" cy="604.1" r="2" fill="#b04f00"/><circle cx="142.3" cy="588.8" r="2" fill="#ffc800"/><circle cx="142.8" cy="600.1" r="2" fill="#ffc800"/><circle cx="146" cy="600.6" r="2" fill="#ffc800"/><circle cx="150.4" cy="599.6" r="2" fill="#ffc800"/><circle cx="141.9" cy="603.8" r="2" fill="#ffc800"/><circle cx="146" cy="604.1" r="2" fill="#ffc800"/><circle cx="145.6" cy="606.5" r="2" fill="#ffc800"/><circle cx="139.9" cy="608.9" r="2" fill="#ffc800"/><circle cx="82.9" cy="615" r="2" fill="#00ff00"/><circle cx="86.6" cy="612.4" r="2" fill="#00ff00"/><circle cx="77" cy="624.2" r="2" fill="#00ff00"/><circle cx="82.1" cy="625" r="2" fill="#00ff00"/><circle cx="82.1" cy="627.9" r="2" fill="#00ff00"/><circle cx="89.3" cy="623.4" r="2" fill="#00ff00"/><circle cx="62.5" cy="627.4" r="2" fill="#00ff00"/><circle cx="95.3" cy="639.7" r="2" fill="#00ff00"/><circle cx="97.4" cy="638.6" r="2" fill="#00ff00"/><circle cx="101.1" cy="638.1" r="2" fill="#00ff00"/><circle cx="93.4" cy="643.9" r="2" fill="#00ff00"/><circle cx="84.5" cy="643" r="2" fill="#00ff00"/><circle cx="91" cy="647.9" r="2" fill="#00ff00"/><circle cx="69.6" cy="648.3" r="2" fill="#00ff00"/><circle cx="69.8" cy="647.9" r="2" fill="#00ff00"/><circle cx="84.7" cy="642.6" r="2" fill="#00ff00"/><circle cx="90.8" cy="647.9" r="2" fill="#00ff00"/><circle cx="93.4" cy="643.5" r="2" fill="#00ff00"/><circle cx="132.3" cy="652.3" r="2" fill="#0000ff"/><circle cx="132.3" cy="658.9" r="2" fill="#0000ff"/><circle cx="106" cy="668" r="2" fill="#0000ff"/><circle cx="111.5" cy="667.5" r="2" fill="#0000ff"/><circle cx="126.7" cy="671.5" r="2" fill="#0000ff"/><circle cx="132.3" cy="674.7" r="2" fill="#0000ff"/><circle cx="136.7" cy="672.9" r="2" fill="#0000ff"/><circle cx="110.1" cy="675.9" r="2" fill="#0000ff"/><circle cx="107.1" cy="677.1" r="2" fill="#0000ff"/><circle cx="117.1" cy="677.7" r="2" fill="#0000ff"/><circle cx="123.7" cy="679.9" r="2" fill="#0000ff"/><circle cx="112.7" cy="682" r="2" fill="#0000ff"/><circle cx="116.6" cy="682.6" r="2" fill="#0000ff"/><circle cx="107.4" cy="686.4" r="2" fill="#0000ff"/><circle cx="90.8" cy="675.6" r="2" fill="#0000ff"/><circle cx="88.2" cy="678.5" r="2" fill="#0000ff"/><circle cx="88" cy="703.8" r="2" fill="#ff0000"/><circle cx="89.8" cy="708.4" r="2" fill="#ff0000"/><circle cx="88" cy="710.4" r="2" fill="#ff0000"/><circle cx="90.9" cy="712.5" r="2" fill="#ff0000"/><circle cx="94.1" cy="711.4" r="2" fill="#ff0000"/><circle cx="85.7" cy="718.1" r="2" fill="#ff0000"/><circle cx="88.6" cy="718.4" r="2" fill="#ff0000"/><circle cx="93.9" cy="716" r="2" fill="#ff0000"/><circle cx="97.4" cy="718.4" r="2" fill="#ff0000"/><circle cx="100.3" cy="716.6" r="2" fill="#ff0000"/><circle cx="100.9" cy="719.5" r="2" fill="#ff0000"/><circle cx="95" cy="720.7" r="2" fill="#ff0000"/><circle cx="88.6" cy="723" r="2" fill="#ff0000"/><circle cx="92.5" cy="723.6" r="2" fill="#ff0000"/><circle cx="98.5" cy="726.3" r="2" fill="#ff0000"/><circle cx="103.2" cy="723.6" r="2" fill="#ff0000"/><circle cx="105" cy="721.9" r="2" fill="#ff0000"/><circle cx="106.7" cy="719.5" r="2" fill="#ff0000"/><circle cx="106.5" cy="727.9" r="2" fill="#ff0000"/><circle cx="103.4" cy="731" r="2" fill="#ff0000"/><circle cx="113.5" cy="707.6" r="2" fill="#ff0000"/><circle cx="91.5" cy="720.1" r="2" fill="#ff0000"/><circle cx="97.4" cy="722.4" r="2" fill="#ff0000"/><circle cx="165.5" cy="692.7" r="2" fill="#f292f2"/><circle cx="167.7" cy="690.2" r="2" fill="#0000ff"/><circle cx="182.8" cy="700.6" r="2" fill="#f292f2"/><circle cx="188.1" cy="709.2" r="2" fill="#f292f2"/><circle cx="191.8" cy="710" r="2" fill="#f292f2"/><circle cx="195.7" cy="712.8" r="2" fill="#f292f2"/><circle cx="198.4" cy="715.2" r="2" fill="#f292f2"/><circle cx="199.7" cy="718.4" r="2" fill="#f292f2"/><circle cx="191.4" cy="717.4" r="2" fill="#f292f2"/><circle cx="194.7" cy="720.7" r="2" fill="#f292f2"/><circle cx="188.1" cy="721.8" r="2" fill="#f292f2"/><circle cx="184.8" cy="722.3" r="2" fill="#f292f2"/><circle cx="180.6" cy="725.7" r="2" fill="#f292f2"/><circle cx="172.1" cy="720.5" r="2" fill="#f292f2"/><circle cx="174" cy="726.6" r="2" fill="#f292f2"/><circle cx="218.3" cy="710" r="2" fill="#f292f2"/><circle cx="219.4" cy="715.7" r="2" fill="#f292f2"/><circle cx="213.7" cy="717.4" r="2" fill="#f292f2"/><circle cx="210.7" cy="722" r="2" fill="#f292f2"/><circle cx="208.9" cy="723.4" r="2" fill="#f292f2"/><circle cx="203.9" cy="734.5" r="2" fill="#f292f2"/><circle cx="205.2" cy="737.8" r="2" fill="#f292f2"/><circle cx="214.4" cy="737.2" r="2" fill="#f292f2"/><circle cx="219.4" cy="735.8" r="2" fill="#f292f2"/><circle cx="181.5" cy="732.3" r="2" fill="#f292f2"/><circle cx="144.7" cy="747.5" r="2" fill="#2e7d2e"/><circle cx="171.9" cy="745.1" r="2" fill="#2e7d2e"/><circle cx="146.9" cy="755.4" r="2" fill="#2e7d2e"/><circle cx="142.6" cy="760.5" r="2" fill="#2e7d2e"/><circle cx="146" cy="760.9" r="2" fill="#2e7d2e"/><circle cx="149.6" cy="760.9" r="2" fill="#2e7d2e"/><circle cx="154.8" cy="761.5" r="2" fill="#2e7d2e"/><circle cx="145" cy="764.4" r="2" fill="#2e7d2e"/><circle cx="148.2" cy="764.8" r="2" fill="#2e7d2e"/><circle cx="145.6" cy="768.1" r="2" fill="#2e7d2e"/><circle cx="152.2" cy="768.1" r="2" fill="#2e7d2e"/><circle cx="151.3" cy="772.7" r="2" fill="#2e7d2e"/><circle cx="152.2" cy="775.3" r="2" fill="#2e7d2e"/><circle cx="142.3" cy="778.6" r="2" fill="#2e7d2e"/><circle cx="164.7" cy="763.5" r="2" fill="#2e7d2e"/><circle cx="165.3" cy="767.1" r="2" fill="#2e7d2e"/><circle cx="162" cy="757.6" r="2" fill="#2e7d2e"/><circle cx="177.5" cy="779.9" r="2" fill="#2e7d2e"/><polygon points="163.4,752.4 161.6,755.6 165.1,755.6" fill="#2e7d2e"/><polygon points="173.9,764.2 172.1,767.4 175.6,767.4" fill="#2e7d2e"/><circle cx="181.8" cy="732" r="2" fill="#f292f2"/><circle cx="185.7" cy="732.6" r="2" fill="#f292f2"/><circle cx="189" cy="735.3" r="2" fill="#f292f2"/><circle cx="193.6" cy="735.3" r="2" fill="#f292f2"/><circle cx="197.5" cy="739.5" r="2" fill="#f292f2"/><circle cx="204.1" cy="735" r="2" fill="#f292f2"/><circle cx="205.1" cy="738.1" r="2" fill="#f292f2"/><circle cx="181.1" cy="738.9" r="2" fill="#f292f2"/><circle cx="185.7" cy="740.5" r="2" fill="#f292f2"/><circle cx="190.3" cy="740.2" r="2" fill="#f292f2"/><circle cx="194.9" cy="743.1" r="2" fill="#f292f2"/><circle cx="198.2" cy="748.4" r="2" fill="#f292f2"/><circle cx="182.8" cy="743.1" r="2" fill="#f292f2"/><polygon points="176.8,739.2 175,742.5 178.5,742.5" fill="#f292f2"/><polygon points="182.8,744.5 181.1,747.7 184.6,747.7" fill="#f292f2"/><polygon points="178.2,748 176.5,751.3 180,751.3" fill="#f292f2"/><circle cx="134.7" cy="808.5" r="2" fill="#00aaff"/><circle cx="136.3" cy="810.2" r="2" fill="#00aaff"/><circle cx="138.2" cy="810.8" r="2" fill="#00aaff"/><circle cx="132.6" cy="813.1" r="2" fill="#00aaff"/><circle cx="133" cy="816.8" r="2" fill="#00aaff"/><circle cx="138.2" cy="823" r="2" fill="#00aaff"/><circle cx="138.2" cy="825.6" r="2" fill="#00aaff"/><circle cx="144.8" cy="826.9" r="2" fill="#00aaff"/><circle cx="146.8" cy="828.2" r="2" fill="#00aaff"/><circle cx="154.7" cy="815.5" r="2" fill="#00aaff"/><circle cx="152" cy="816.8" r="2" fill="#00aaff"/><circle cx="155.3" cy="820" r="2" fill="#00aaff"/><circle cx="154" cy="822.3" r="2" fill="#00aaff"/><circle cx="152" cy="825" r="2" fill="#00aaff"/><circle cx="153.4" cy="830.6" r="2" fill="#00aaff"/><circle cx="164.1" cy="806.8" r="2" fill="#00aaff"/><circle cx="168" cy="844.8" r="2" fill="#ffd600"/><circle cx="168.4" cy="847.3" r="2" fill="#ffd600"/><circle cx="165.9" cy="849.3" r="2" fill="#ffd600"/><circle cx="173.5" cy="846.9" r="2" fill="#ffd600"/><circle cx="178" cy="850.3" r="2" fill="#ffd600"/><circle cx="169.4" cy="854.8" r="2" fill="#ffd600"/><circle cx="192.5" cy="852.4" r="2" fill="#ffd600"/><circle cx="198" cy="860.1" r="2" fill="#ffd600"/><circle cx="177.6" cy="864.2" r="2" fill="#ffd600"/><circle cx="223.2" cy="854.8" r="2" fill="#a85000"/><circle cx="229.7" cy="858.9" r="2" fill="#a85000"/><circle cx="207.2" cy="860.5" r="2" fill="#a85000"/><circle cx="211.9" cy="860.5" r="2" fill="#a85000"/><circle cx="215" cy="862.6" r="2" fill="#a85000"/><circle cx="205.2" cy="863.6" r="2" fill="#a85000"/><circle cx="210.3" cy="867.7" r="2" fill="#a85000"/><circle cx="213.4" cy="867.7" r="2" fill="#a85000"/><circle cx="219.5" cy="867.7" r="2" fill="#a85000"/><circle cx="220.5" cy="866.1" r="2" fill="#a85000"/><circle cx="218.5" cy="869.7" r="2" fill="#a85000"/><circle cx="231.7" cy="866.1" r="2" fill="#a85000"/><circle cx="226.2" cy="870.2" r="2" fill="#a85000"/><circle cx="215.4" cy="875.9" r="2" fill="#a85000"/><circle cx="219.1" cy="874.9" r="2" fill="#a85000"/><circle cx="260.8" cy="866.7" r="2" fill="#9e00c4"/><circle cx="264.4" cy="872.8" r="2" fill="#9e00c4"/><circle cx="266.9" cy="874.9" r="2" fill="#9e00c4"/><circle cx="253.6" cy="876.3" r="2" fill="#9e00c4"/><circle cx="253.8" cy="884" r="2" fill="#9e00c4"/><circle cx="256.7" cy="891.2" r="2" fill="#9e00c4"/><circle cx="265.9" cy="893.7" r="2" fill="#9e00c4"/></g>
<g fill="#000"><circle cx="148" cy="547" r="1.4"/><circle cx="158.2" cy="541.2" r="1.4"/><circle cx="158.7" cy="548.8" r="1.4"/><circle cx="152.8" cy="552.4" r="1.4"/><circle cx="167" cy="548.9" r="1.4"/><circle cx="168.5" cy="551.4" r="1.4"/><circle cx="180.1" cy="559.4" r="1.4"/><circle cx="201.3" cy="531.4" r="1.4"/><circle cx="201.3" cy="537.5" r="1.4"/><circle cx="188.9" cy="550.7" r="1.4"/><circle cx="211.2" cy="539.3" r="1.4"/><circle cx="201" cy="550.7" r="1.4"/><circle cx="201" cy="553.6" r="1.4"/><circle cx="206.4" cy="549.9" r="1.4"/><circle cx="224.4" cy="560.4" r="1.4"/><circle cx="80.8" cy="591.2" r="1.4"/><circle cx="111.5" cy="603.8" r="1.4"/><circle cx="112.6" cy="606.5" r="1.4"/><circle cx="140.7" cy="585.3" r="1.4"/><circle cx="152.8" cy="597.3" r="1.4"/><circle cx="143.9" cy="609.7" r="1.4"/><circle cx="146" cy="612.1" r="1.4"/><circle cx="54.8" cy="628.2" r="1.4"/><circle cx="86.6" cy="618.1" r="1.4"/><circle cx="83.7" cy="621.8" r="1.4"/><circle cx="85" cy="622.6" r="1.4"/><circle cx="93" cy="633.8" r="1.4"/><circle cx="101.7" cy="634.6" r="1.4"/><circle cx="89.3" cy="641.8" r="1.4"/><circle cx="147.6" cy="637.8" r="1.4"/><circle cx="54.4" cy="657" r="1.4"/><circle cx="85.6" cy="650.9" r="1.4"/><circle cx="71.9" cy="659.8" r="1.4"/><circle cx="136" cy="657.5" r="1.4"/><circle cx="125" cy="668.9" r="1.4"/><circle cx="111" cy="672.9" r="1.4"/><circle cx="115.7" cy="674.7" r="1.4"/><circle cx="118.8" cy="675.6" r="1.4"/><circle cx="124.1" cy="676.8" r="1.4"/><circle cx="127.6" cy="685" r="1.4"/><circle cx="101.3" cy="690.3" r="1.4"/><circle cx="77.7" cy="679.4" r="1.4"/><circle cx="68.9" cy="690.3" r="1.4"/><circle cx="141.3" cy="669.8" r="1.4"/><circle cx="150" cy="662.4" r="1.4"/><circle cx="152.1" cy="670.3" r="1.4"/><circle cx="73.4" cy="707.6" r="1.4"/><circle cx="75.4" cy="712.3" r="1.4"/><circle cx="81.6" cy="718.9" r="1.4"/><circle cx="81.6" cy="731.8" r="1.4"/><circle cx="88" cy="726.5" r="1.4"/><circle cx="90.6" cy="727.7" r="1.4"/><circle cx="100.9" cy="710.2" r="1.4"/><circle cx="92.7" cy="708.1" r="1.4"/><circle cx="99.7" cy="713.9" r="1.4"/><circle cx="107.9" cy="723.3" r="1.4"/><circle cx="108.5" cy="733.3" r="1.4"/><circle cx="110.8" cy="731.8" r="1.4"/><circle cx="116.9" cy="737.3" r="1.4"/><circle cx="122.5" cy="729.1" r="1.4"/><circle cx="119.8" cy="720.3" r="1.4"/><circle cx="163.8" cy="680.7" r="1.4"/><circle cx="167.1" cy="695.8" r="1.4"/><circle cx="184.8" cy="695.8" r="1.4"/><circle cx="192.7" cy="701.3" r="1.4"/><circle cx="199.9" cy="711.5" r="1.4"/><circle cx="166" cy="707.2" r="1.4"/><circle cx="170.4" cy="725.3" r="1.4"/><circle cx="184.4" cy="725.6" r="1.4"/><circle cx="190.7" cy="725.7" r="1.4"/><circle cx="201" cy="722.7" r="1.4"/><circle cx="212" cy="716.1" r="1.4"/><circle cx="219.6" cy="722.3" r="1.4"/><circle cx="213.1" cy="724.9" r="1.4"/><circle cx="201" cy="729.7" r="1.4"/><circle cx="212" cy="732.8" r="1.4"/><circle cx="222.5" cy="733.6" r="1.4"/><circle cx="225.9" cy="735.2" r="1.4"/><circle cx="151.5" cy="747.1" r="1.4"/><circle cx="141" cy="756.9" r="1.4"/><circle cx="159.2" cy="753.9" r="1.4"/><circle cx="158.4" cy="761.5" r="1.4"/><circle cx="160.7" cy="765.2" r="1.4"/><circle cx="139.7" cy="768.5" r="1.4"/><circle cx="134.5" cy="771.8" r="1.4"/><circle cx="159.4" cy="772.7" r="1.4"/><circle cx="148.2" cy="774" r="1.4"/><circle cx="137.7" cy="778.4" r="1.4"/><circle cx="140.8" cy="780.6" r="1.4"/><circle cx="175.2" cy="768.8" r="1.4"/><circle cx="178.9" cy="789.8" r="1.4"/><circle cx="188.3" cy="745.8" r="1.4"/><circle cx="178.5" cy="746.4" r="1.4"/><circle cx="204.1" cy="742.9" r="1.4"/><circle cx="125.5" cy="810.2" r="1.4"/><circle cx="126.4" cy="818.4" r="1.4"/><circle cx="127.7" cy="821" r="1.4"/><circle cx="127.1" cy="822.3" r="1.4"/><circle cx="124.5" cy="823.6" r="1.4"/><circle cx="158" cy="819.4" r="1.4"/><circle cx="157.3" cy="823" r="1.4"/><circle cx="161" cy="826.3" r="1.4"/><circle cx="148.1" cy="831.5" r="1.4"/><circle cx="146.1" cy="833.9" r="1.4"/><circle cx="156" cy="833.5" r="1.4"/><circle cx="167.8" cy="806.3" r="1.4"/><circle cx="160.2" cy="848.9" r="1.4"/><circle cx="162.3" cy="846.2" r="1.4"/><circle cx="174.9" cy="843.2" r="1.4"/><circle cx="180.7" cy="843.2" r="1.4"/><circle cx="182.3" cy="851.8" r="1.4"/><circle cx="187.4" cy="848.3" r="1.4"/><circle cx="175.5" cy="869.3" r="1.4"/><circle cx="212.3" cy="855.4" r="1.4"/><circle cx="224.6" cy="853.8" r="1.4"/><circle cx="219.5" cy="861.2" r="1.4"/><circle cx="232.8" cy="862.2" r="1.4"/><circle cx="203.5" cy="867.7" r="1.4"/><circle cx="211.3" cy="877.3" r="1.4"/><circle cx="219.1" cy="878.3" r="1.4"/><circle cx="233.4" cy="872.4" r="1.4"/><circle cx="214.4" cy="865.7" r="1.4"/><circle cx="270.2" cy="869.1" r="1.4"/><circle cx="256.3" cy="871.4" r="1.4"/><circle cx="261.4" cy="873.4" r="1.4"/><circle cx="273.6" cy="879.3" r="1.4"/><circle cx="256.3" cy="887.1" r="1.4"/><circle cx="259.3" cy="896.7" r="1.4"/><circle cx="272" cy="898.4" r="1.4"/><circle cx="183.8" cy="745.5" r="1.4"/><circle cx="187" cy="746.2" r="1.4"/><circle cx="189.6" cy="745.2" r="1.4"/><circle cx="178.7" cy="746.2" r="1.4"/><circle cx="159" cy="753.8" r="1.4"/><circle cx="148.8" cy="754.2" r="1.4"/><circle cx="155.3" cy="765.9" r="1.4"/><circle cx="150.2" cy="773.9" r="1.4"/><circle cx="142.9" cy="768.8" r="1.4"/></g>
</g>
<rect x="161.5" y="582.7" width="118.9" height="83.6" fill="#fff"/>
<g clip-path="url(#cic)">
<g stroke="#5a5a5a" stroke-width="1.1"><line x1="214.1" y1="616.3" x2="166.3" y2="620.1"/><line x1="190.8" y1="640.3" x2="181.5" y2="648"/><line x1="163.2" y1="645.3" x2="193.3" y2="634.7"/><line x1="174" y1="648" x2="183.4" y2="632.9"/><line x1="168.3" y1="649.3" x2="183.4" y2="662"/><line x1="170.7" y1="659.6" x2="177.9" y2="652.7"/><line x1="168.3" y1="649.3" x2="170.7" y2="659.6"/><line x1="198" y1="652.1" x2="186.7" y2="654.1"/><line x1="158.2" y1="656.1" x2="170.7" y2="659.6"/><line x1="169.8" y1="663.8" x2="197.1" y2="657.8"/><line x1="199.8" y1="657" x2="207.1" y2="665.6"/><line x1="194.4" y1="665.6" x2="218.8" y2="657.3"/><line x1="199.4" y1="657" x2="220.5" y2="662.9"/><line x1="159.1" y1="635.3" x2="162.3" y2="634"/><line x1="210.9" y1="582.4" x2="262.5" y2="592.3"/><line x1="237.2" y1="591.9" x2="249.9" y2="582.8"/><line x1="244.3" y1="595.5" x2="234.3" y2="600.7"/><line x1="246.2" y1="608" x2="251.7" y2="599.7"/><line x1="225" y1="609.5" x2="243.1" y2="604.7"/><line x1="238.1" y1="616.8" x2="247" y2="617.2"/><line x1="247" y1="617.2" x2="259.8" y2="610"/><line x1="265.3" y1="595.5" x2="279.7" y2="586.4"/><line x1="265.3" y1="595.5" x2="279.7" y2="594.6"/><line x1="254.4" y1="607.7" x2="279.7" y2="600"/><line x1="258.5" y1="607.7" x2="273" y2="605.6"/><line x1="267.1" y1="612.5" x2="269.3" y2="614.3"/><line x1="275.7" y1="622.2" x2="280.2" y2="619"/><line x1="228.6" y1="617.9" x2="228.6" y2="625.8"/><line x1="237.2" y1="591.9" x2="232.9" y2="590.1"/><line x1="235.8" y1="604.4" x2="236.7" y2="609.8"/><line x1="245.8" y1="594.4" x2="243.1" y2="604.7"/><line x1="263.9" y1="600.2" x2="261.8" y2="604.4"/><line x1="273" y1="605.6" x2="267.5" y2="602.3"/><line x1="253.3" y1="618.1" x2="258.5" y2="607.7"/><line x1="255.1" y1="617" x2="239" y2="613.6"/><line x1="237.2" y1="619.9" x2="262.4" y2="612.7"/><line x1="262.5" y1="592.3" x2="265.3" y2="595.5"/><line x1="259.8" y1="610" x2="267.1" y2="612.5"/></g>
<g stroke="#000" stroke-width="0.6"><circle cx="214.1" cy="616.3" r="2.9" fill="#2e7d2e"/><circle cx="190.8" cy="640.3" r="2.9" fill="#2e7d2e"/><circle cx="163.2" cy="645.3" r="2.9" fill="#2e7d2e"/><circle cx="168.3" cy="649.3" r="2.9" fill="#2e7d2e"/><circle cx="174" cy="648" r="2.9" fill="#2e7d2e"/><circle cx="170.7" cy="659.6" r="2.9" fill="#2e7d2e"/><circle cx="198" cy="652.1" r="2.9" fill="#2e7d2e"/><circle cx="197.1" cy="657.8" r="2.9" fill="#2e7d2e"/><polygon points="193.3,631.5 190.4,636.8 196.2,636.8" fill="#2e7d2e"/><polygon points="199.8,653.8 196.9,659.2 202.7,659.2" fill="#2e7d2e"/><polygon points="218.8,654.1 215.9,659.5 221.7,659.5" fill="#2e7d2e"/><circle cx="237.2" cy="591.9" r="2.9" fill="#f292f2"/><circle cx="244.3" cy="595.5" r="2.9" fill="#f292f2"/><circle cx="245.8" cy="594.4" r="2.9" fill="#f292f2"/><circle cx="251.7" cy="599.7" r="2.9" fill="#f292f2"/><circle cx="235.8" cy="604.4" r="2.9" fill="#f292f2"/><circle cx="246.2" cy="608" r="2.9" fill="#f292f2"/><circle cx="254.4" cy="607.7" r="2.9" fill="#f292f2"/><circle cx="258.5" cy="607.7" r="2.9" fill="#f292f2"/><circle cx="265.3" cy="595.5" r="2.9" fill="#f292f2"/><circle cx="263.9" cy="600.2" r="2.9" fill="#f292f2"/><circle cx="273" cy="605.6" r="2.9" fill="#f292f2"/><circle cx="267.1" cy="612.5" r="2.9" fill="#f292f2"/><circle cx="275.7" cy="622.2" r="2.9" fill="#f292f2"/><circle cx="279.3" cy="599.6" r="2.9" fill="#f292f2"/><circle cx="238.1" cy="616.8" r="2.9" fill="#f292f2"/><polygon points="225,606.3 222.1,611.7 227.9,611.7" fill="#f292f2"/><polygon points="239,610.4 236.1,615.8 241.9,615.8" fill="#f292f2"/><polygon points="237.2,616.7 234.3,622.1 240.1,622.1" fill="#f292f2"/><polygon points="228.6,622.6 225.7,628 231.5,628" fill="#f292f2"/></g>
<g fill="#000"><circle cx="166.3" cy="620.1" r="1.2"/><circle cx="181.5" cy="648" r="1.2"/><circle cx="162.3" cy="634" r="1.2"/><circle cx="183.4" cy="632.9" r="1.2"/><circle cx="177.9" cy="652.7" r="1.2"/><circle cx="186.7" cy="654.1" r="1.2"/><circle cx="183.4" cy="662" r="1.2"/><circle cx="162.3" cy="663.2" r="1.2"/><circle cx="169.8" cy="663.8" r="1.2"/><circle cx="173.4" cy="663.8" r="1.2"/><circle cx="220.5" cy="662.9" r="1.2"/><circle cx="232.9" cy="590.1" r="1.2"/><circle cx="262.5" cy="592.3" r="1.2"/><circle cx="234.3" cy="600.7" r="1.2"/><circle cx="243.1" cy="604.7" r="1.2"/><circle cx="236.7" cy="609.8" r="1.2"/><circle cx="228.6" cy="617.9" r="1.2"/><circle cx="247" cy="617.2" r="1.2"/><circle cx="253.3" cy="618.1" r="1.2"/><circle cx="255.1" cy="617" r="1.2"/><circle cx="261.8" cy="604.4" r="1.2"/><circle cx="267.5" cy="602.3" r="1.2"/><circle cx="262.4" cy="612.7" r="1.2"/><circle cx="269.3" cy="614.3" r="1.2"/><circle cx="259.8" cy="610" r="1.2"/></g>
</g>
<rect x="161.5" y="582.7" width="118.9" height="83.6" fill="none" stroke="#111" stroke-width="1.5"/>
<g stroke="#444" stroke-width="1.4" stroke-dasharray="5.5,3">
<line x1="161.5" y1="666.3" x2="152.2" y2="734.6"/>
<line x1="280.4" y1="666.3" x2="200.5" y2="734.6"/>
</g>
<rect x="152.2" y="734.6" width="48.3" height="36.4" fill="none" stroke="#1a2f3c" stroke-width="2"/>
<rect x="43.5" y="513" width="241" height="403.8" fill="none" stroke="#222" stroke-width="1"/>
<g stroke="#222" stroke-width="0.9"><line x1="66.7" y1="916.8" x2="66.7" y2="920.3"/><line x1="129.7" y1="916.8" x2="129.7" y2="920.3"/><line x1="192.7" y1="916.8" x2="192.7" y2="920.3"/><line x1="255.7" y1="916.8" x2="255.7" y2="920.3"/><line x1="43.5" y1="517.8" x2="40" y2="517.8"/><line x1="43.5" y1="576" x2="40" y2="576"/><line x1="43.5" y1="634.3" x2="40" y2="634.3"/><line x1="43.5" y1="692.5" x2="40" y2="692.5"/><line x1="43.5" y1="750.8" x2="40" y2="750.8"/><line x1="43.5" y1="809" x2="40" y2="809"/><line x1="43.5" y1="867.3" x2="40" y2="867.3"/></g>
<g font-size="11.7" fill="#222"><text x="66.7" y="933.1" text-anchor="middle">565</text><text x="129.7" y="933.1" text-anchor="middle">570</text><text x="192.7" y="933.1" text-anchor="middle">575</text><text x="255.7" y="933.1" text-anchor="middle">580</text><text x="35.6" y="522.1" text-anchor="end">80</text><text x="35.6" y="580.3" text-anchor="end">85</text><text x="35.6" y="638.6" text-anchor="end">90</text><text x="35.6" y="696.8" text-anchor="end">95</text><text x="35.6" y="755.1" text-anchor="end">100</text><text x="35.6" y="813.3" text-anchor="end">105</text><text x="35.6" y="871.6" text-anchor="end">110</text></g>
<text x="163.7" y="948" text-anchor="middle" font-size="11.5" fill="#222" textLength="89" lengthAdjust="spacingAndGlyphs">M1_pred_BiLSTM</text>
<text transform="translate(9.9,716.7) rotate(-90)" text-anchor="middle" font-size="11.5" fill="#222" textLength="88.2" lengthAdjust="spacingAndGlyphs">M2_pred_BiLSTM</text>
<text x="158" y="990" text-anchor="middle" font-size="22" font-weight="bold" fill="#000">c</text>
<clipPath id="cpd"><rect x="350.5" y="513.4" width="246.4" height="412.7"/></clipPath>
<clipPath id="cid"><rect x="480.6" y="580.6" width="106.9" height="99.2"/></clipPath>
<g clip-path="url(#cpd)">
<g stroke="#555" stroke-width="0.55" stroke-opacity="0.9"><line x1="463.9" y1="557.4" x2="461.7" y2="553.5"/><line x1="461.7" y1="553.5" x2="457.3" y2="547.9"/><line x1="473.8" y1="551.6" x2="467.5" y2="541.8"/><line x1="466.5" y1="570.5" x2="471.2" y2="560"/><line x1="483.3" y1="569.1" x2="474.8" y2="556.8"/><line x1="461.7" y1="553.5" x2="473.8" y2="551.6"/><line x1="472.6" y1="554.9" x2="468.2" y2="549.5"/><line x1="487.7" y1="560.8" x2="490.6" y2="560.3"/><line x1="503.7" y1="540.8" x2="511.6" y2="538.4"/><line x1="511.6" y1="538.4" x2="511.6" y2="531.9"/><line x1="498.2" y1="551.3" x2="503.6" y2="573.5"/><line x1="521.5" y1="569.2" x2="535.4" y2="561.8"/><line x1="515.4" y1="548.1" x2="522" y2="540"/><line x1="525.5" y1="545.9" x2="521.5" y2="552.4"/><line x1="498.2" y1="551.3" x2="508.1" y2="551.6"/><line x1="512.5" y1="544" x2="510.1" y2="543.2"/><line x1="513.1" y1="549.1" x2="511.3" y2="554.2"/><line x1="395.8" y1="596.6" x2="388.6" y2="593.1"/><line x1="422.4" y1="602.8" x2="419.8" y2="605.9"/><line x1="423.9" y1="597.5" x2="421" y2="608.6"/><line x1="440.5" y1="612.1" x2="453.6" y2="606.3"/><line x1="452.6" y1="587.9" x2="449.6" y2="587"/><line x1="459.2" y1="601.9" x2="461.5" y2="599.3"/><line x1="458.4" y1="612.4" x2="454.9" y2="614.2"/><line x1="383.6" y1="616.4" x2="394.4" y2="620.3"/><line x1="380.8" y1="639.2" x2="362" y2="631.2"/><line x1="410.4" y1="625.2" x2="410.2" y2="637.5"/><line x1="387.4" y1="653.6" x2="362" y2="659.7"/><line x1="400.2" y1="640.8" x2="401.4" y2="636.9"/><line x1="402" y1="649.2" x2="403.2" y2="645.7"/><line x1="394.9" y1="655.3" x2="397" y2="645.2"/><line x1="457" y1="640.8" x2="442.6" y2="660.1"/><line x1="386.2" y1="623.4" x2="391.8" y2="624.1"/><line x1="386.5" y1="633.8" x2="384.4" y2="627.7"/><line x1="387.7" y1="653.5" x2="361.8" y2="660.2"/><line x1="395" y1="655.3" x2="379.6" y2="663.1"/><line x1="439.7" y1="662.6" x2="451.1" y2="650"/><line x1="405.9" y1="676.6" x2="376.3" y2="694.1"/><line x1="408.7" y1="678" x2="385.8" y2="682.9"/><line x1="437.6" y1="677.2" x2="459.3" y2="665.8"/><line x1="434.5" y1="680.3" x2="461.3" y2="674"/><line x1="419.2" y1="672.4" x2="450.2" y2="672.8"/><line x1="421" y1="681.5" x2="436.2" y2="688.9"/><line x1="413.1" y1="685.9" x2="409.9" y2="694.1"/><line x1="471.8" y1="699.6" x2="473" y2="684.5"/><line x1="442" y1="665.2" x2="445.3" y2="660.5"/><line x1="422.2" y1="674.5" x2="433.6" y2="672.4"/><line x1="423.4" y1="677.2" x2="427.4" y2="678.9"/><line x1="418.2" y1="680.7" x2="425.7" y2="682.4"/><line x1="399.4" y1="706.9" x2="383.6" y2="716.9"/><line x1="381.2" y1="712.5" x2="398.6" y2="718.4"/><line x1="408.1" y1="711.4" x2="428" y2="725"/><line x1="418.6" y1="729.6" x2="431.3" y2="733.9"/><line x1="397.2" y1="733.5" x2="389.4" y2="736.6"/><line x1="407.1" y1="729.6" x2="416.6" y2="738.6"/><line x1="404.5" y1="731.9" x2="425.5" y2="742.4"/><line x1="402.3" y1="718.2" x2="400.9" y2="713.1"/><line x1="407.8" y1="720.9" x2="409.1" y2="715.1"/><line x1="396.9" y1="726.4" x2="389.7" y2="723.3"/><line x1="399.4" y1="724.5" x2="393.8" y2="724.8"/><line x1="411.5" y1="724.5" x2="412.7" y2="723"/><line x1="414.7" y1="727.4" x2="411.7" y2="728.1"/><line x1="403.5" y1="726.8" x2="402" y2="730.5"/><line x1="407.1" y1="729.6" x2="419.3" y2="736.6"/><line x1="396.9" y1="726.4" x2="395.8" y2="730.9"/><line x1="471.8" y1="699.9" x2="477" y2="699.9"/><line x1="499" y1="705.2" x2="494.8" y2="700.3"/><line x1="502.9" y1="706" x2="501.3" y2="716.3"/><line x1="475.6" y1="711.6" x2="488.1" y2="723.9"/><line x1="480.3" y1="730.3" x2="488.1" y2="723.9"/><line x1="514.6" y1="734.1" x2="533.1" y2="719.2"/><line x1="500.1" y1="720.1" x2="499" y2="717.1"/><line x1="501.3" y1="724.5" x2="505.6" y2="719"/><line x1="507.1" y1="729.5" x2="511.5" y2="727.4"/><line x1="504.5" y1="725.6" x2="510.3" y2="715.9"/><line x1="522.3" y1="723.6" x2="522.6" y2="720.6"/><line x1="528.6" y1="725" x2="530.5" y2="727.4"/><line x1="522.3" y1="733.2" x2="523.7" y2="729.7"/><line x1="521.4" y1="739.6" x2="524.7" y2="741.6"/><line x1="525.5" y1="739.1" x2="533.1" y2="738.8"/><line x1="525.5" y1="739.1" x2="536.6" y2="740.5"/><line x1="493.9" y1="735" x2="489.9" y2="736.7"/><line x1="494.5" y1="743.7" x2="491.3" y2="742"/><line x1="484" y1="745.5" x2="491.6" y2="747.2"/><line x1="501.3" y1="734.4" x2="500.6" y2="730.6"/><line x1="461" y1="752.6" x2="479.7" y2="754"/><line x1="473.3" y1="775.3" x2="488.5" y2="797.2"/><line x1="485" y1="775.3" x2="485.3" y2="785.5"/><line x1="443.3" y1="777.4" x2="460.4" y2="768"/><line x1="446.8" y1="784.4" x2="461.6" y2="775.6"/><line x1="449.9" y1="786.5" x2="461.6" y2="779.1"/><line x1="454.6" y1="761.6" x2="449.9" y2="762.2"/><line x1="453.4" y1="773.9" x2="448.4" y2="774.5"/><line x1="453.8" y1="780.9" x2="458.1" y2="780.3"/><line x1="457.5" y1="767.4" x2="452.3" y2="770.1"/><line x1="463.9" y1="770.9" x2="469.2" y2="778.5"/><line x1="484.1" y1="766.6" x2="468" y2="775"/><line x1="493.7" y1="765.9" x2="475" y2="773.9"/><line x1="485.5" y1="756.4" x2="488.5" y2="751.7"/><line x1="477.4" y1="757.8" x2="468" y2="759.3"/><line x1="473.3" y1="775.3" x2="485" y2="775.3"/><line x1="497.2" y1="752.3" x2="499.8" y2="750.7"/><line x1="483.8" y1="745.3" x2="492" y2="747.2"/><line x1="449" y1="805.6" x2="434.2" y2="817.3"/><line x1="467.3" y1="822" x2="477.8" y2="813.4"/><line x1="445.7" y1="815.2" x2="446.6" y2="829"/><line x1="450.6" y1="828" x2="455.3" y2="841.1"/><line x1="463.2" y1="830.6" x2="465.5" y2="840.9"/><line x1="460.3" y1="834.5" x2="457.6" y2="838.8"/><line x1="439.3" y1="828.6" x2="435.2" y2="825.1"/><line x1="439.3" y1="828.6" x2="432.8" y2="830.6"/><line x1="442.8" y1="826.3" x2="436.4" y2="828"/><line x1="462.3" y1="827.1" x2="463.4" y2="821"/><line x1="467.3" y1="829.4" x2="470.5" y2="833.6"/><line x1="457.4" y1="824.8" x2="467.6" y2="825.7"/><line x1="472.9" y1="863.5" x2="485.5" y2="877.4"/><line x1="501.3" y1="870" x2="492.3" y2="859.4"/><line x1="501.3" y1="870" x2="497.4" y2="855.9"/><line x1="483.5" y1="859" x2="490.2" y2="850.6"/><line x1="480" y1="857.4" x2="484.9" y2="850.6"/><line x1="478.4" y1="855.9" x2="471.9" y2="853.3"/><line x1="509.5" y1="867.6" x2="514.2" y2="875.8"/><line x1="536" y1="873.1" x2="535.6" y2="861.5"/><line x1="542.8" y1="879.9" x2="529.5" y2="870.7"/><line x1="527.4" y1="869.2" x2="522.9" y2="863.5"/><line x1="520.9" y1="873.3" x2="518.9" y2="867"/><line x1="525" y1="879.2" x2="521.7" y2="885.4"/><line x1="527.4" y1="879.9" x2="525.4" y2="884.6"/><line x1="532.6" y1="878.4" x2="529.9" y2="886.6"/><line x1="545.4" y1="870.2" x2="536" y2="873.1"/><line x1="561.6" y1="864.9" x2="582.2" y2="877.2"/><line x1="571.4" y1="898.2" x2="583.6" y2="907"/><line x1="565.3" y1="896.2" x2="570.8" y2="905.8"/><line x1="578.5" y1="886" x2="585.7" y2="888"/><line x1="568.3" y1="885" x2="567.9" y2="879.2"/><line x1="577.5" y1="887.4" x2="572.8" y2="881.5"/></g>
<g stroke="#000" stroke-width="0.6"><circle cx="463.9" cy="557.4" r="2" fill="#00f6e2"/><circle cx="473.8" cy="551.6" r="2" fill="#00f6e2"/><circle cx="477" cy="550.5" r="2" fill="#00f6e2"/><circle cx="479.6" cy="550.5" r="2" fill="#00f6e2"/><circle cx="472.6" cy="554.9" r="2" fill="#00f6e2"/><circle cx="477" cy="554.2" r="2" fill="#00f6e2"/><circle cx="474.8" cy="556.8" r="2" fill="#00f6e2"/><circle cx="487.7" cy="560.8" r="2" fill="#00f6e2"/><circle cx="466.5" cy="570.5" r="2" fill="#00f6e2"/><circle cx="483.3" cy="569.1" r="2" fill="#00f6e2"/><circle cx="503.7" cy="540.8" r="2" fill="#a000c4"/><circle cx="498.2" cy="551.3" r="2" fill="#a000c4"/><circle cx="508.1" cy="551.6" r="2" fill="#a000c4"/><circle cx="512.5" cy="544" r="2" fill="#a000c4"/><circle cx="513.1" cy="549.1" r="2" fill="#a000c4"/><circle cx="515.4" cy="548.1" r="2" fill="#a000c4"/><circle cx="516.9" cy="549.8" r="2" fill="#a000c4"/><circle cx="525.5" cy="545.9" r="2" fill="#a000c4"/><circle cx="503.6" cy="573.5" r="2" fill="#a000c4"/><circle cx="521.5" cy="569.2" r="2" fill="#a000c4"/><circle cx="395.8" cy="596.6" r="2" fill="#b04f00"/><circle cx="423.9" cy="597.5" r="2" fill="#b04f00"/><circle cx="422.4" cy="602.8" r="2" fill="#b04f00"/><circle cx="452.6" cy="587.9" r="2" fill="#ffc800"/><circle cx="455.2" cy="601.9" r="2" fill="#ffc800"/><circle cx="457.5" cy="601" r="2" fill="#ffc800"/><circle cx="459.2" cy="601.9" r="2" fill="#ffc800"/><circle cx="456.6" cy="604.5" r="2" fill="#ffc800"/><circle cx="453.6" cy="607.2" r="2" fill="#ffc800"/><circle cx="458.4" cy="612.4" r="2" fill="#ffc800"/><circle cx="440.5" cy="612.1" r="2" fill="#ffc800"/><circle cx="383.6" cy="616.4" r="2" fill="#00ff00"/><circle cx="386.2" cy="623.4" r="2" fill="#00ff00"/><circle cx="388.6" cy="627" r="2" fill="#00ff00"/><circle cx="391.4" cy="628.2" r="2" fill="#00ff00"/><circle cx="386.5" cy="633.8" r="2" fill="#00ff00"/><circle cx="380.8" cy="639.2" r="2" fill="#00ff00"/><circle cx="410.4" cy="625.2" r="2" fill="#00ff00"/><circle cx="400.2" cy="640.8" r="2" fill="#00ff00"/><circle cx="402" cy="649.2" r="2" fill="#00ff00"/><circle cx="387.4" cy="653.6" r="2" fill="#00ff00"/><circle cx="394.9" cy="655.3" r="2" fill="#00ff00"/><circle cx="399.7" cy="655.3" r="2" fill="#00ff00"/><circle cx="387.7" cy="653.5" r="2" fill="#00ff00"/><circle cx="395" cy="655.3" r="2" fill="#00ff00"/><circle cx="399.4" cy="655.3" r="2" fill="#00ff00"/><circle cx="398.5" cy="662.3" r="2" fill="#00ff00"/><circle cx="439.7" cy="662.6" r="2" fill="#0000ff"/><circle cx="442" cy="665.2" r="2" fill="#0000ff"/><circle cx="415.2" cy="673.1" r="2" fill="#0000ff"/><circle cx="419.2" cy="672.4" r="2" fill="#0000ff"/><circle cx="422.2" cy="674.5" r="2" fill="#0000ff"/><circle cx="416.9" cy="678" r="2" fill="#0000ff"/><circle cx="420.4" cy="678" r="2" fill="#0000ff"/><circle cx="423.4" cy="677.2" r="2" fill="#0000ff"/><circle cx="415.2" cy="681.5" r="2" fill="#0000ff"/><circle cx="418.2" cy="680.7" r="2" fill="#0000ff"/><circle cx="421" cy="681.5" r="2" fill="#0000ff"/><circle cx="413.1" cy="685.9" r="2" fill="#0000ff"/><circle cx="405.9" cy="676.6" r="2" fill="#0000ff"/><circle cx="408.7" cy="678" r="2" fill="#0000ff"/><circle cx="434.5" cy="680.3" r="2" fill="#0000ff"/><circle cx="437.6" cy="677.2" r="2" fill="#0000ff"/><circle cx="471.8" cy="699.6" r="2" fill="#0000ff"/><circle cx="466.9" cy="702.2" r="2" fill="#f292f2"/><circle cx="399.4" cy="706.9" r="2" fill="#ff0000"/><circle cx="408.1" cy="711.4" r="2" fill="#ff0000"/><circle cx="398.6" cy="718.4" r="2" fill="#ff0000"/><circle cx="402.3" cy="718.2" r="2" fill="#ff0000"/><circle cx="405" cy="718.2" r="2" fill="#ff0000"/><circle cx="400.4" cy="722" r="2" fill="#ff0000"/><circle cx="403.3" cy="722" r="2" fill="#ff0000"/><circle cx="407.8" cy="720.9" r="2" fill="#ff0000"/><circle cx="396.9" cy="726.4" r="2" fill="#ff0000"/><circle cx="399.4" cy="724.5" r="2" fill="#ff0000"/><circle cx="403.5" cy="726.8" r="2" fill="#ff0000"/><circle cx="407.1" cy="724.5" r="2" fill="#ff0000"/><circle cx="411.5" cy="724.5" r="2" fill="#ff0000"/><circle cx="414.7" cy="727.4" r="2" fill="#ff0000"/><circle cx="418.6" cy="729.6" r="2" fill="#ff0000"/><circle cx="407.1" cy="729.6" r="2" fill="#ff0000"/><circle cx="404.5" cy="731.9" r="2" fill="#ff0000"/><circle cx="397.2" cy="733.5" r="2" fill="#ff0000"/><circle cx="471.8" cy="699.9" r="2" fill="#0000ff"/><circle cx="499" cy="705.2" r="2" fill="#f292f2"/><circle cx="488.1" cy="723.9" r="2" fill="#f292f2"/><circle cx="490.4" cy="724.1" r="2" fill="#f292f2"/><circle cx="492.8" cy="726.4" r="2" fill="#f292f2"/><circle cx="492.4" cy="730.6" r="2" fill="#f292f2"/><circle cx="493.9" cy="735" r="2" fill="#f292f2"/><circle cx="498" cy="727.6" r="2" fill="#f292f2"/><circle cx="500.1" cy="720.1" r="2" fill="#f292f2"/><circle cx="501.3" cy="724.5" r="2" fill="#f292f2"/><circle cx="504.5" cy="725.6" r="2" fill="#f292f2"/><circle cx="507.1" cy="729.5" r="2" fill="#f292f2"/><circle cx="501.3" cy="734.4" r="2" fill="#f292f2"/><circle cx="522.3" cy="723.6" r="2" fill="#f292f2"/><circle cx="525.8" cy="726.2" r="2" fill="#f292f2"/><circle cx="528.6" cy="725" r="2" fill="#f292f2"/><circle cx="522.3" cy="733.2" r="2" fill="#f292f2"/><circle cx="514.6" cy="734.1" r="2" fill="#f292f2"/><circle cx="514.1" cy="737.3" r="2" fill="#f292f2"/><circle cx="518.5" cy="736.7" r="2" fill="#f292f2"/><circle cx="521.4" cy="739.6" r="2" fill="#f292f2"/><circle cx="525.5" cy="739.1" r="2" fill="#f292f2"/><circle cx="484" cy="745.5" r="2" fill="#f292f2"/><circle cx="494.5" cy="743.7" r="2" fill="#f292f2"/><circle cx="498.6" cy="743.5" r="2" fill="#f292f2"/><circle cx="500.9" cy="741.4" r="2" fill="#f292f2"/><circle cx="508.5" cy="744" r="2" fill="#f292f2"/><circle cx="512.6" cy="745.5" r="2" fill="#f292f2"/><circle cx="454.6" cy="761.6" r="2" fill="#2e7d2e"/><circle cx="459.9" cy="761.6" r="2" fill="#2e7d2e"/><circle cx="459.9" cy="764.5" r="2" fill="#2e7d2e"/><circle cx="457.5" cy="767.4" r="2" fill="#2e7d2e"/><circle cx="460.4" cy="768" r="2" fill="#2e7d2e"/><circle cx="463.4" cy="769.2" r="2" fill="#2e7d2e"/><circle cx="466.3" cy="767.4" r="2" fill="#2e7d2e"/><circle cx="461" cy="771.3" r="2" fill="#2e7d2e"/><circle cx="463.9" cy="770.9" r="2" fill="#2e7d2e"/><circle cx="453.4" cy="773.9" r="2" fill="#2e7d2e"/><circle cx="461.6" cy="775.6" r="2" fill="#2e7d2e"/><circle cx="463.9" cy="776.8" r="2" fill="#2e7d2e"/><circle cx="461.6" cy="779.1" r="2" fill="#2e7d2e"/><circle cx="453.8" cy="780.9" r="2" fill="#2e7d2e"/><circle cx="473.3" cy="775.3" r="2" fill="#2e7d2e"/><circle cx="485.5" cy="756.4" r="2" fill="#2e7d2e"/><polygon points="477.4,755.8 475.6,759.1 479.1,759.1" fill="#2e7d2e"/><polygon points="484.1,764.7 482.4,767.9 485.9,767.9" fill="#2e7d2e"/><polygon points="487.9,762 486.1,765.3 489.6,765.3" fill="#2e7d2e"/><polygon points="493.7,764 492,767.2 495.5,767.2" fill="#2e7d2e"/><circle cx="483.8" cy="745.3" r="2" fill="#f292f2"/><circle cx="497.2" cy="752.3" r="2" fill="#f292f2"/><polygon points="479.7,752.1 478,755.3 481.5,755.3" fill="#f292f2"/><polygon points="488.8,753.8 487.1,757.1 490.6,757.1" fill="#f292f2"/><circle cx="493.7" cy="743.5" r="2" fill="#f292f2"/><circle cx="498.4" cy="742.9" r="2" fill="#f292f2"/><circle cx="501.9" cy="741.8" r="2" fill="#f292f2"/><circle cx="508.9" cy="744.1" r="2" fill="#f292f2"/><circle cx="513" cy="745.8" r="2" fill="#f292f2"/><circle cx="449" cy="805.6" r="2" fill="#00aaff"/><circle cx="467.3" cy="822" r="2" fill="#00aaff"/><circle cx="439.3" cy="828.6" r="2" fill="#00aaff"/><circle cx="442.8" cy="826.3" r="2" fill="#00aaff"/><circle cx="443.9" cy="827.8" r="2" fill="#00aaff"/><circle cx="446.6" cy="829" r="2" fill="#00aaff"/><circle cx="450.6" cy="828" r="2" fill="#00aaff"/><circle cx="454.5" cy="827.1" r="2" fill="#00aaff"/><circle cx="457.4" cy="824.8" r="2" fill="#00aaff"/><circle cx="455.6" cy="829.4" r="2" fill="#00aaff"/><circle cx="462.3" cy="827.1" r="2" fill="#00aaff"/><circle cx="459.7" cy="831.5" r="2" fill="#00aaff"/><circle cx="460.3" cy="834.5" r="2" fill="#00aaff"/><circle cx="463.2" cy="830.6" r="2" fill="#00aaff"/><circle cx="467.3" cy="829.4" r="2" fill="#00aaff"/><circle cx="478.4" cy="855.9" r="2" fill="#ffd600"/><circle cx="480" cy="857.4" r="2" fill="#ffd600"/><circle cx="483.5" cy="859" r="2" fill="#ffd600"/><circle cx="472.9" cy="863.5" r="2" fill="#ffd600"/><circle cx="501.3" cy="870" r="2" fill="#ffd600"/><circle cx="509.5" cy="867.6" r="2" fill="#a85000"/><circle cx="520.9" cy="873.3" r="2" fill="#a85000"/><circle cx="525" cy="872.7" r="2" fill="#a85000"/><circle cx="527.4" cy="869.2" r="2" fill="#a85000"/><circle cx="529.5" cy="870.2" r="2" fill="#a85000"/><circle cx="527" cy="873.7" r="2" fill="#a85000"/><circle cx="531.5" cy="872.7" r="2" fill="#a85000"/><circle cx="536" cy="873.1" r="2" fill="#a85000"/><circle cx="532.6" cy="878.4" r="2" fill="#a85000"/><circle cx="525" cy="879.2" r="2" fill="#a85000"/><circle cx="527.4" cy="879.9" r="2" fill="#a85000"/><circle cx="545.4" cy="870.2" r="2" fill="#a85000"/><circle cx="542.8" cy="879.9" r="2" fill="#a85000"/><circle cx="561.6" cy="864.9" r="2" fill="#9e00c4"/><circle cx="568.3" cy="885" r="2" fill="#9e00c4"/><circle cx="566.7" cy="890.7" r="2" fill="#9e00c4"/><circle cx="565.3" cy="896.2" r="2" fill="#9e00c4"/><circle cx="571.4" cy="898.2" r="2" fill="#9e00c4"/><circle cx="577.5" cy="887.4" r="2" fill="#9e00c4"/><circle cx="578.5" cy="886" r="2" fill="#9e00c4"/></g>
<g fill="#000"><circle cx="457.3" cy="547.9" r="1.4"/><circle cx="461.7" cy="553.5" r="1.4"/><circle cx="467.5" cy="541.8" r="1.4"/><circle cx="468.2" cy="549.5" r="1.4"/><circle cx="471.2" cy="560" r="1.4"/><circle cx="476.7" cy="550.1" r="1.4"/><circle cx="490.6" cy="560.3" r="1.4"/><circle cx="511.6" cy="531.9" r="1.4"/><circle cx="511.6" cy="538.4" r="1.4"/><circle cx="510.1" cy="543.2" r="1.4"/><circle cx="522" cy="540" r="1.4"/><circle cx="511.3" cy="554.2" r="1.4"/><circle cx="521.5" cy="552.4" r="1.4"/><circle cx="535.4" cy="561.8" r="1.4"/><circle cx="388.6" cy="593.1" r="1.4"/><circle cx="419.8" cy="605.9" r="1.4"/><circle cx="421" cy="608.6" r="1.4"/><circle cx="449.6" cy="587" r="1.4"/><circle cx="461.5" cy="599.3" r="1.4"/><circle cx="451" cy="608.9" r="1.4"/><circle cx="454.9" cy="614.2" r="1.4"/><circle cx="453.1" cy="612.4" r="1.4"/><circle cx="394.4" cy="620.3" r="1.4"/><circle cx="391.8" cy="624.1" r="1.4"/><circle cx="394.4" cy="625.9" r="1.4"/><circle cx="384.4" cy="627.7" r="1.4"/><circle cx="362" cy="631.2" r="1.4"/><circle cx="410.2" cy="637.5" r="1.4"/><circle cx="401.4" cy="636.9" r="1.4"/><circle cx="397" cy="645.2" r="1.4"/><circle cx="403.2" cy="645.7" r="1.4"/><circle cx="362" cy="659.7" r="1.4"/><circle cx="457" cy="640.8" r="1.4"/><circle cx="361.8" cy="660.2" r="1.4"/><circle cx="379.6" cy="663.1" r="1.4"/><circle cx="393.3" cy="653.5" r="1.4"/><circle cx="445.3" cy="660.5" r="1.4"/><circle cx="433.6" cy="672.4" r="1.4"/><circle cx="450.2" cy="672.8" r="1.4"/><circle cx="459.3" cy="665.8" r="1.4"/><circle cx="461.3" cy="674" r="1.4"/><circle cx="427.4" cy="678.9" r="1.4"/><circle cx="425.7" cy="682.4" r="1.4"/><circle cx="436.2" cy="688.9" r="1.4"/><circle cx="409.9" cy="694.1" r="1.4"/><circle cx="385.8" cy="682.9" r="1.4"/><circle cx="376.3" cy="694.1" r="1.4"/><circle cx="473" cy="684.5" r="1.4"/><circle cx="381.2" cy="712.5" r="1.4"/><circle cx="383.6" cy="716.9" r="1.4"/><circle cx="400.9" cy="713.1" r="1.4"/><circle cx="409.1" cy="715.1" r="1.4"/><circle cx="389.7" cy="723.3" r="1.4"/><circle cx="393.8" cy="724.8" r="1.4"/><circle cx="412.7" cy="723" r="1.4"/><circle cx="411.7" cy="728.1" r="1.4"/><circle cx="395.8" cy="730.9" r="1.4"/><circle cx="389.4" cy="736.6" r="1.4"/><circle cx="402" cy="730.5" r="1.4"/><circle cx="419.3" cy="736.6" r="1.4"/><circle cx="416.6" cy="738.6" r="1.4"/><circle cx="425.5" cy="742.4" r="1.4"/><circle cx="428" cy="725" r="1.4"/><circle cx="431.3" cy="733.9" r="1.4"/><circle cx="477" cy="699.9" r="1.4"/><circle cx="494.8" cy="700.3" r="1.4"/><circle cx="502.9" cy="706" r="1.4"/><circle cx="475.6" cy="711.6" r="1.4"/><circle cx="480.3" cy="730.3" r="1.4"/><circle cx="499" cy="717.1" r="1.4"/><circle cx="502.1" cy="715.5" r="1.4"/><circle cx="505.6" cy="719" r="1.4"/><circle cx="510.3" cy="715.9" r="1.4"/><circle cx="500.6" cy="730.6" r="1.4"/><circle cx="511.5" cy="727.4" r="1.4"/><circle cx="522.6" cy="720.6" r="1.4"/><circle cx="533.1" cy="719.2" r="1.4"/><circle cx="530.5" cy="727.4" r="1.4"/><circle cx="523.7" cy="729.7" r="1.4"/><circle cx="511.5" cy="734.4" r="1.4"/><circle cx="533.1" cy="738.8" r="1.4"/><circle cx="536.6" cy="740.5" r="1.4"/><circle cx="524.7" cy="741.6" r="1.4"/><circle cx="489.9" cy="736.7" r="1.4"/><circle cx="491.3" cy="742" r="1.4"/><circle cx="491.6" cy="747.2" r="1.4"/><circle cx="449.9" cy="762.2" r="1.4"/><circle cx="461" cy="752.6" r="1.4"/><circle cx="452.3" cy="770.1" r="1.4"/><circle cx="448.4" cy="774.5" r="1.4"/><circle cx="443.3" cy="777.4" r="1.4"/><circle cx="458.1" cy="780.3" r="1.4"/><circle cx="446.8" cy="784.4" r="1.4"/><circle cx="449.9" cy="786.5" r="1.4"/><circle cx="469.2" cy="778.5" r="1.4"/><circle cx="485" cy="775.3" r="1.4"/><circle cx="485.3" cy="785.5" r="1.4"/><circle cx="488.5" cy="797.2" r="1.4"/><circle cx="488.5" cy="751.7" r="1.4"/><circle cx="468" cy="759.3" r="1.4"/><circle cx="492" cy="747.2" r="1.4"/><circle cx="499.8" cy="750.7" r="1.4"/><circle cx="514.7" cy="747.9" r="1.4"/><circle cx="490.8" cy="742.1" r="1.4"/><circle cx="503.1" cy="748.8" r="1.4"/><circle cx="434.2" cy="817.3" r="1.4"/><circle cx="477.8" cy="813.4" r="1.4"/><circle cx="445.7" cy="815.2" r="1.4"/><circle cx="435.2" cy="825.1" r="1.4"/><circle cx="436.4" cy="828" r="1.4"/><circle cx="432.8" cy="830.6" r="1.4"/><circle cx="463.4" cy="821" r="1.4"/><circle cx="467.6" cy="825.7" r="1.4"/><circle cx="470.5" cy="833.6" r="1.4"/><circle cx="465.5" cy="840.9" r="1.4"/><circle cx="455.3" cy="841.1" r="1.4"/><circle cx="457.6" cy="838.8" r="1.4"/><circle cx="470.2" cy="855.3" r="1.4"/><circle cx="471.9" cy="853.3" r="1.4"/><circle cx="476.3" cy="855.3" r="1.4"/><circle cx="484.9" cy="850.6" r="1.4"/><circle cx="490.2" cy="850.6" r="1.4"/><circle cx="492.3" cy="859.4" r="1.4"/><circle cx="497.4" cy="855.9" r="1.4"/><circle cx="485.5" cy="877.4" r="1.4"/><circle cx="465.1" cy="841" r="1.4"/><circle cx="514.2" cy="875.8" r="1.4"/><circle cx="522.9" cy="863.5" r="1.4"/><circle cx="518.9" cy="867" r="1.4"/><circle cx="535.6" cy="861.5" r="1.4"/><circle cx="521.7" cy="885.4" r="1.4"/><circle cx="525.4" cy="884.6" r="1.4"/><circle cx="529.9" cy="886.6" r="1.4"/><circle cx="582.2" cy="877.2" r="1.4"/><circle cx="567.9" cy="879.2" r="1.4"/><circle cx="572.8" cy="881.5" r="1.4"/><circle cx="585.7" cy="888" r="1.4"/><circle cx="570.8" cy="905.8" r="1.4"/><circle cx="583.6" cy="907" r="1.4"/></g>
</g>
<rect x="480.6" y="580.6" width="106.9" height="99.2" fill="#fff"/>
<g clip-path="url(#cid)">
<g stroke="#7c7c7c" stroke-width="2.0"><line x1="514.7" y1="640.7" x2="472.8" y2="661.9"/><line x1="472.8" y1="623.1" x2="537.3" y2="635.2"/><line x1="489.5" y1="645.1" x2="485.9" y2="669.3"/><line x1="509.5" y1="681.8" x2="537.8" y2="663"/><line x1="533.1" y1="669.8" x2="533.1" y2="681.8"/><line x1="533.7" y1="597.9" x2="551" y2="587.2"/><line x1="551" y1="587.2" x2="561.5" y2="578"/><line x1="533.7" y1="597.9" x2="561.5" y2="592.7"/><line x1="553.9" y1="603.4" x2="581.9" y2="597.4"/><line x1="519.5" y1="623.1" x2="544.5" y2="618.4"/><line x1="546.3" y1="632.5" x2="565.7" y2="600.2"/><line x1="546.3" y1="629.4" x2="566.2" y2="617"/><line x1="566.2" y1="617" x2="588.7" y2="607.4"/><line x1="566.2" y1="617" x2="576.2" y2="596.9"/><line x1="576.2" y1="616.6" x2="578.3" y2="596.9"/><line x1="565.7" y1="600.2" x2="578.3" y2="593.7"/><line x1="533.1" y1="670.3" x2="543.1" y2="660.9"/><line x1="533.1" y1="670.3" x2="533.1" y2="681.8"/><line x1="540" y1="681.8" x2="559.4" y2="667.7"/><line x1="570.4" y1="622.1" x2="574.1" y2="618.4"/><line x1="581.9" y1="595.8" x2="582.4" y2="604.2"/></g>
<g stroke="#000" stroke-width="0.6"><polygon points="530.4,593.5 525.9,601.8 534.9,601.8" fill="#f292f2"/><circle cx="534.6" cy="597.4" r="4.5" fill="#f292f2"/><polygon points="520.5,621.5 516,629.8 525,629.8" fill="#f292f2"/><polygon points="514.7,635.8 510.2,644.1 519.2,644.1" fill="#2e7d2e"/><circle cx="537.3" cy="635.2" r="4.5" fill="#2e7d2e"/><circle cx="487.2" cy="669.5" r="4.5" fill="#2e7d2e"/><circle cx="484.3" cy="672.9" r="4.5" fill="#2e7d2e"/><polygon points="533.1,664.8 528.6,673.2 537.6,673.2" fill="#2e7d2e"/><circle cx="568.3" cy="585.9" r="4.5" fill="#f292f2"/><circle cx="561.5" cy="592.7" r="4.5" fill="#f292f2"/><circle cx="565.7" cy="593.7" r="4.5" fill="#f292f2"/><circle cx="574.6" cy="592.2" r="4.5" fill="#f292f2"/><circle cx="579.3" cy="585.9" r="4.5" fill="#f292f2"/><circle cx="582.4" cy="583.8" r="4.5" fill="#f292f2"/><circle cx="581.9" cy="595.8" r="4.5" fill="#f292f2"/><circle cx="584.5" cy="582.2" r="4.5" fill="#f292f2"/><circle cx="570.4" cy="622.1" r="4.5" fill="#f292f2"/><polygon points="544.7,625 540.2,633.3 549.2,633.3" fill="#f292f2"/><polygon points="546.3,629.7 541.8,638 550.8,638" fill="#f292f2"/><polygon points="543.1,655.9 538.6,664.2 547.6,664.2" fill="#2e7d2e"/><polygon points="533.1,665.4 528.6,673.7 537.6,673.7" fill="#2e7d2e"/><polygon points="559.4,662.7 554.9,671.1 563.9,671.1" fill="#2e7d2e"/></g>
<g fill="#000"><circle cx="489.5" cy="645.1" r="1.8"/><circle cx="551" cy="587.2" r="1.8"/><circle cx="565.7" cy="600.2" r="1.8"/><circle cx="553.9" cy="603.4" r="1.8"/><circle cx="544.5" cy="618.4" r="1.8"/><circle cx="566.2" cy="617" r="1.8"/><circle cx="576.2" cy="616.6" r="1.8"/><circle cx="574.1" cy="618.4" r="1.8"/><circle cx="582.4" cy="604.2" r="1.8"/><circle cx="584.5" cy="608.9" r="1.8"/></g>
</g>
<rect x="480.6" y="580.6" width="106.9" height="99.2" fill="none" stroke="#111" stroke-width="1.5"/>
<g stroke="#444" stroke-width="1.4" stroke-dasharray="5.5,3">
<line x1="480.6" y1="679.8" x2="469.2" y2="739"/>
<line x1="587.5" y1="679.8" x2="505.2" y2="739"/>
</g>
<rect x="469.2" y="739" width="36" height="39" fill="none" stroke="#1a2f3c" stroke-width="2"/>
<rect x="350.5" y="513.4" width="246.4" height="412.7" fill="none" stroke="#222" stroke-width="1"/>
<g stroke="#222" stroke-width="0.9"><line x1="374.3" y1="926.1" x2="374.3" y2="929.6"/><line x1="438.8" y1="926.1" x2="438.8" y2="929.6"/><line x1="503.2" y1="926.1" x2="503.2" y2="929.6"/><line x1="567.7" y1="926.1" x2="567.7" y2="929.6"/><line x1="350.5" y1="518.3" x2="347" y2="518.3"/><line x1="350.5" y1="577.8" x2="347" y2="577.8"/><line x1="350.5" y1="637.3" x2="347" y2="637.3"/><line x1="350.5" y1="696.8" x2="347" y2="696.8"/><line x1="350.5" y1="756.3" x2="347" y2="756.3"/><line x1="350.5" y1="815.8" x2="347" y2="815.8"/><line x1="350.5" y1="875.3" x2="347" y2="875.3"/></g>
<g font-size="11.7" fill="#222"><text x="374.3" y="942.4" text-anchor="middle">565</text><text x="438.8" y="942.4" text-anchor="middle">570</text><text x="503.2" y="942.4" text-anchor="middle">575</text><text x="567.7" y="942.4" text-anchor="middle">580</text><text x="342.6" y="522.6" text-anchor="end">80</text><text x="342.6" y="582.1" text-anchor="end">85</text><text x="342.6" y="641.6" text-anchor="end">90</text><text x="342.6" y="701.1" text-anchor="end">95</text><text x="342.6" y="760.6" text-anchor="end">100</text><text x="342.6" y="820.1" text-anchor="end">105</text><text x="342.6" y="879.6" text-anchor="end">110</text></g>
<text x="472.8" y="957" text-anchor="middle" font-size="11.5" fill="#222" textLength="101" lengthAdjust="spacingAndGlyphs">M1_pred_protBERT</text>
<text transform="translate(316.2,720.9) rotate(-90)" text-anchor="middle" font-size="11.5" fill="#222" textLength="100.9" lengthAdjust="spacingAndGlyphs">M2_pred_protBERT</text>
<text x="467.9" y="990" text-anchor="middle" font-size="22" font-weight="bold" fill="#000">d</text>
<text x="635.5" y="16.6" font-size="15" fill="#222" textLength="46.6" lengthAdjust="spacingAndGlyphs">cluster</text>
<circle cx="608.9" cy="57.1" r="5.1" fill="#a000c4"/>
<text x="635.6" y="60.5" font-size="15" fill="#222" textLength="37.2" lengthAdjust="spacingAndGlyphs">HK68</text>
<circle cx="608.9" cy="78.8" r="5.1" fill="#00f6e2"/>
<text x="635.6" y="82.2" font-size="15" fill="#222" textLength="36.3" lengthAdjust="spacingAndGlyphs">EN72</text>
<circle cx="608.9" cy="100.4" r="5.1" fill="#ffc800"/>
<text x="635.6" y="103.8" font-size="15" fill="#222" textLength="30.7" lengthAdjust="spacingAndGlyphs">VI75</text>
<circle cx="608.9" cy="122.3" r="5.1" fill="#b04f00"/>
<text x="635.6" y="125.7" font-size="15" fill="#222" textLength="34.8" lengthAdjust="spacingAndGlyphs">TX77</text>
<circle cx="608.9" cy="144" r="5.1" fill="#00ff00"/>
<text x="635.6" y="147.4" font-size="15" fill="#222" textLength="36.3" lengthAdjust="spacingAndGlyphs">BK79</text>
<circle cx="608.9" cy="165.8" r="5.1" fill="#0000ff"/>
<text x="635.6" y="169.2" font-size="15" fill="#222" textLength="30" lengthAdjust="spacingAndGlyphs">SI87</text>
<circle cx="608.9" cy="188.1" r="5.1" fill="#ff0000"/>
<text x="635.6" y="191.5" font-size="15" fill="#222" textLength="35.8" lengthAdjust="spacingAndGlyphs">BE89</text>
<circle cx="608.9" cy="209.7" r="5.1" fill="#f292f2"/>
<text x="635.6" y="213.1" font-size="15" fill="#222" textLength="35.4" lengthAdjust="spacingAndGlyphs">BE92</text>
<circle cx="608.9" cy="231.3" r="5.1" fill="#2e7d2e"/>
<text x="635.6" y="234.7" font-size="15" fill="#222" textLength="41.7" lengthAdjust="spacingAndGlyphs">WU95</text>
<circle cx="608.9" cy="253.2" r="5.1" fill="#00aaff"/>
<text x="635.6" y="256.6" font-size="15" fill="#222" textLength="34.5" lengthAdjust="spacingAndGlyphs">SY97</text>
<circle cx="608.9" cy="275" r="5.1" fill="#ffd600"/>
<text x="635.6" y="278.4" font-size="15" fill="#222" textLength="34.8" lengthAdjust="spacingAndGlyphs">FU02</text>
<circle cx="608.9" cy="296.9" r="5.1" fill="#a85000"/>
<text x="635.6" y="300.3" font-size="15" fill="#222" textLength="37.2" lengthAdjust="spacingAndGlyphs">CA04</text>
<circle cx="608.9" cy="317.2" r="5.1" fill="#9e00c4"/>
<text x="635.6" y="320.6" font-size="15" fill="#222" textLength="34.5" lengthAdjust="spacingAndGlyphs">PE09</text>
</svg>
</body></html>
